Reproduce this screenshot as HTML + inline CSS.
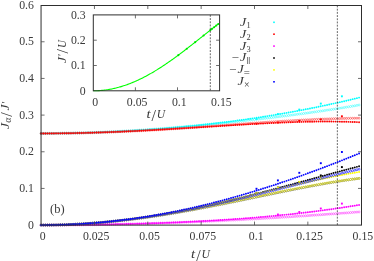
<!DOCTYPE html>
<html><head><meta charset="utf-8"><title>plot</title><style>html,body{margin:0;padding:0;background:#fff}</style></head><body>
<svg width="374" height="261" viewBox="0 0 374 261" style="display:block;font-family:'Liberation Serif',serif">
<rect width="374" height="261" fill="#fff"/>
<g>
<g fill="none" stroke="#00ffff" stroke-width="0.42">
<circle cx="41.10" cy="133.43" r="1.0"/>
<circle cx="43.23" cy="133.43" r="1.0"/>
<circle cx="45.37" cy="133.43" r="1.0"/>
<circle cx="47.50" cy="133.42" r="1.0"/>
<circle cx="49.64" cy="133.41" r="1.0"/>
<circle cx="51.77" cy="133.39" r="1.0"/>
<circle cx="53.90" cy="133.38" r="1.0"/>
<circle cx="56.04" cy="133.35" r="1.0"/>
<circle cx="58.17" cy="133.33" r="1.0"/>
<circle cx="60.31" cy="133.30" r="1.0"/>
<circle cx="62.44" cy="133.27" r="1.0"/>
<circle cx="64.57" cy="133.24" r="1.0"/>
<circle cx="66.71" cy="133.20" r="1.0"/>
<circle cx="68.84" cy="133.16" r="1.0"/>
<circle cx="70.98" cy="133.12" r="1.0"/>
<circle cx="73.11" cy="133.07" r="1.0"/>
<circle cx="75.24" cy="133.02" r="1.0"/>
<circle cx="77.38" cy="132.97" r="1.0"/>
<circle cx="79.51" cy="132.91" r="1.0"/>
<circle cx="81.65" cy="132.85" r="1.0"/>
<circle cx="83.78" cy="132.79" r="1.0"/>
<circle cx="85.91" cy="132.73" r="1.0"/>
<circle cx="88.05" cy="132.66" r="1.0"/>
<circle cx="90.18" cy="132.59" r="1.0"/>
<circle cx="92.32" cy="132.51" r="1.0"/>
<circle cx="94.45" cy="132.44" r="1.0"/>
<circle cx="96.58" cy="132.36" r="1.0"/>
<circle cx="98.72" cy="132.27" r="1.0"/>
<circle cx="100.85" cy="132.19" r="1.0"/>
<circle cx="102.99" cy="132.10" r="1.0"/>
<circle cx="105.12" cy="132.00" r="1.0"/>
<circle cx="107.25" cy="131.91" r="1.0"/>
<circle cx="109.39" cy="131.81" r="1.0"/>
<circle cx="111.52" cy="131.71" r="1.0"/>
<circle cx="113.66" cy="131.61" r="1.0"/>
<circle cx="115.79" cy="131.50" r="1.0"/>
<circle cx="117.92" cy="131.39" r="1.0"/>
<circle cx="120.06" cy="131.28" r="1.0"/>
<circle cx="122.19" cy="131.16" r="1.0"/>
<circle cx="124.33" cy="131.04" r="1.0"/>
<circle cx="126.46" cy="130.92" r="1.0"/>
<circle cx="128.59" cy="130.80" r="1.0"/>
<circle cx="130.73" cy="130.67" r="1.0"/>
<circle cx="132.86" cy="130.55" r="1.0"/>
<circle cx="135.00" cy="130.41" r="1.0"/>
<circle cx="137.13" cy="130.28" r="1.0"/>
<circle cx="139.26" cy="130.14" r="1.0"/>
<circle cx="141.40" cy="130.01" r="1.0"/>
<circle cx="143.53" cy="129.86" r="1.0"/>
<circle cx="145.67" cy="129.72" r="1.0"/>
<circle cx="147.80" cy="129.57" r="1.0"/>
<circle cx="149.93" cy="129.42" r="1.0"/>
<circle cx="152.07" cy="129.27" r="1.0"/>
<circle cx="154.20" cy="129.12" r="1.0"/>
<circle cx="156.34" cy="128.96" r="1.0"/>
<circle cx="158.47" cy="128.80" r="1.0"/>
<circle cx="160.60" cy="128.64" r="1.0"/>
<circle cx="162.74" cy="128.48" r="1.0"/>
<circle cx="164.87" cy="128.31" r="1.0"/>
<circle cx="167.01" cy="128.14" r="1.0"/>
<circle cx="169.14" cy="127.97" r="1.0"/>
<circle cx="171.27" cy="127.80" r="1.0"/>
<circle cx="173.41" cy="127.63" r="1.0"/>
<circle cx="175.54" cy="127.45" r="1.0"/>
<circle cx="177.68" cy="127.27" r="1.0"/>
<circle cx="179.81" cy="127.09" r="1.0"/>
<circle cx="181.94" cy="126.91" r="1.0"/>
<circle cx="184.08" cy="126.72" r="1.0"/>
<circle cx="186.21" cy="126.54" r="1.0"/>
<circle cx="188.35" cy="126.35" r="1.0"/>
<circle cx="190.48" cy="126.15" r="1.0"/>
<circle cx="192.61" cy="125.96" r="1.0"/>
<circle cx="194.75" cy="125.77" r="1.0"/>
<circle cx="196.88" cy="125.57" r="1.0"/>
<circle cx="199.02" cy="125.37" r="1.0"/>
<circle cx="201.15" cy="125.17" r="1.0"/>
<circle cx="203.28" cy="124.97" r="1.0"/>
<circle cx="205.42" cy="124.76" r="1.0"/>
<circle cx="207.55" cy="124.56" r="1.0"/>
<circle cx="209.69" cy="124.35" r="1.0"/>
<circle cx="211.82" cy="124.14" r="1.0"/>
<circle cx="213.95" cy="123.93" r="1.0"/>
<circle cx="216.09" cy="123.71" r="1.0"/>
<circle cx="218.22" cy="123.50" r="1.0"/>
<circle cx="220.36" cy="123.28" r="1.0"/>
<circle cx="222.49" cy="123.06" r="1.0"/>
<circle cx="224.62" cy="122.84" r="1.0"/>
<circle cx="226.76" cy="122.62" r="1.0"/>
<circle cx="228.89" cy="122.40" r="1.0"/>
<circle cx="231.03" cy="122.17" r="1.0"/>
<circle cx="233.16" cy="121.94" r="1.0"/>
<circle cx="235.29" cy="121.72" r="1.0"/>
<circle cx="237.43" cy="121.48" r="1.0"/>
<circle cx="239.56" cy="121.25" r="1.0"/>
<circle cx="241.70" cy="121.02" r="1.0"/>
<circle cx="243.83" cy="120.78" r="1.0"/>
<circle cx="245.96" cy="120.55" r="1.0"/>
<circle cx="248.10" cy="120.31" r="1.0"/>
<circle cx="250.23" cy="120.07" r="1.0"/>
<circle cx="252.37" cy="119.83" r="1.0"/>
<circle cx="254.50" cy="119.58" r="1.0"/>
<circle cx="256.63" cy="119.34" r="1.0"/>
<circle cx="258.77" cy="119.09" r="1.0"/>
<circle cx="260.90" cy="118.84" r="1.0"/>
<circle cx="263.04" cy="118.59" r="1.0"/>
<circle cx="265.17" cy="118.34" r="1.0"/>
<circle cx="267.30" cy="118.09" r="1.0"/>
<circle cx="269.44" cy="117.83" r="1.0"/>
<circle cx="271.57" cy="117.58" r="1.0"/>
<circle cx="273.71" cy="117.32" r="1.0"/>
<circle cx="275.84" cy="117.06" r="1.0"/>
<circle cx="277.97" cy="116.80" r="1.0"/>
<circle cx="280.11" cy="116.53" r="1.0"/>
<circle cx="282.24" cy="116.27" r="1.0"/>
<circle cx="284.38" cy="116.00" r="1.0"/>
<circle cx="286.51" cy="115.73" r="1.0"/>
<circle cx="288.64" cy="115.46" r="1.0"/>
<circle cx="290.78" cy="115.18" r="1.0"/>
<circle cx="292.91" cy="114.91" r="1.0"/>
<circle cx="295.05" cy="114.63" r="1.0"/>
<circle cx="297.18" cy="114.35" r="1.0"/>
<circle cx="299.31" cy="114.07" r="1.0"/>
<circle cx="301.45" cy="113.79" r="1.0"/>
<circle cx="303.58" cy="113.50" r="1.0"/>
<circle cx="305.72" cy="113.21" r="1.0"/>
<circle cx="307.85" cy="112.92" r="1.0"/>
<circle cx="309.98" cy="112.63" r="1.0"/>
<circle cx="312.12" cy="112.33" r="1.0"/>
<circle cx="314.25" cy="112.03" r="1.0"/>
<circle cx="316.39" cy="111.73" r="1.0"/>
<circle cx="318.52" cy="111.43" r="1.0"/>
<circle cx="320.65" cy="111.12" r="1.0"/>
<circle cx="322.79" cy="110.81" r="1.0"/>
<circle cx="324.92" cy="110.50" r="1.0"/>
<circle cx="327.06" cy="110.18" r="1.0"/>
<circle cx="329.19" cy="109.86" r="1.0"/>
<circle cx="331.32" cy="109.54" r="1.0"/>
<circle cx="333.46" cy="109.22" r="1.0"/>
<circle cx="335.59" cy="108.89" r="1.0"/>
<circle cx="337.73" cy="108.55" r="1.0"/>
<circle cx="339.86" cy="108.22" r="1.0"/>
<circle cx="341.99" cy="107.88" r="1.0"/>
<circle cx="344.13" cy="107.54" r="1.0"/>
<circle cx="346.26" cy="107.19" r="1.0"/>
<circle cx="348.40" cy="106.84" r="1.0"/>
<circle cx="350.53" cy="106.48" r="1.0"/>
<circle cx="352.66" cy="106.12" r="1.0"/>
<circle cx="354.80" cy="105.76" r="1.0"/>
<circle cx="356.93" cy="105.39" r="1.0"/>
<circle cx="359.07" cy="105.01" r="1.0"/>
</g>
<g fill="#00ffff">
<circle cx="41.10" cy="133.43" r="0.95"/>
<circle cx="43.23" cy="133.43" r="0.95"/>
<circle cx="45.37" cy="133.43" r="0.95"/>
<circle cx="47.50" cy="133.42" r="0.95"/>
<circle cx="49.64" cy="133.41" r="0.95"/>
<circle cx="51.77" cy="133.40" r="0.95"/>
<circle cx="53.90" cy="133.38" r="0.95"/>
<circle cx="56.04" cy="133.36" r="0.95"/>
<circle cx="58.17" cy="133.34" r="0.95"/>
<circle cx="60.31" cy="133.31" r="0.95"/>
<circle cx="62.44" cy="133.29" r="0.95"/>
<circle cx="64.57" cy="133.26" r="0.95"/>
<circle cx="66.71" cy="133.22" r="0.95"/>
<circle cx="68.84" cy="133.19" r="0.95"/>
<circle cx="70.98" cy="133.15" r="0.95"/>
<circle cx="73.11" cy="133.10" r="0.95"/>
<circle cx="75.24" cy="133.06" r="0.95"/>
<circle cx="77.38" cy="133.01" r="0.95"/>
<circle cx="79.51" cy="132.96" r="0.95"/>
<circle cx="81.65" cy="132.90" r="0.95"/>
<circle cx="83.78" cy="132.85" r="0.95"/>
<circle cx="85.91" cy="132.79" r="0.95"/>
<circle cx="88.05" cy="132.72" r="0.95"/>
<circle cx="90.18" cy="132.66" r="0.95"/>
<circle cx="92.32" cy="132.59" r="0.95"/>
<circle cx="94.45" cy="132.51" r="0.95"/>
<circle cx="96.58" cy="132.44" r="0.95"/>
<circle cx="98.72" cy="132.36" r="0.95"/>
<circle cx="100.85" cy="132.28" r="0.95"/>
<circle cx="102.99" cy="132.20" r="0.95"/>
<circle cx="105.12" cy="132.11" r="0.95"/>
<circle cx="107.25" cy="132.02" r="0.95"/>
<circle cx="109.39" cy="131.92" r="0.95"/>
<circle cx="111.52" cy="131.83" r="0.95"/>
<circle cx="113.66" cy="131.73" r="0.95"/>
<circle cx="115.79" cy="131.63" r="0.95"/>
<circle cx="117.92" cy="131.52" r="0.95"/>
<circle cx="120.06" cy="131.41" r="0.95"/>
<circle cx="122.19" cy="131.30" r="0.95"/>
<circle cx="124.33" cy="131.19" r="0.95"/>
<circle cx="126.46" cy="131.07" r="0.95"/>
<circle cx="128.59" cy="130.95" r="0.95"/>
<circle cx="130.73" cy="130.83" r="0.95"/>
<circle cx="132.86" cy="130.70" r="0.95"/>
<circle cx="135.00" cy="130.57" r="0.95"/>
<circle cx="137.13" cy="130.44" r="0.95"/>
<circle cx="139.26" cy="130.30" r="0.95"/>
<circle cx="141.40" cy="130.16" r="0.95"/>
<circle cx="143.53" cy="130.02" r="0.95"/>
<circle cx="145.67" cy="129.87" r="0.95"/>
<circle cx="147.80" cy="129.73" r="0.95"/>
<circle cx="149.93" cy="129.57" r="0.95"/>
<circle cx="152.07" cy="129.42" r="0.95"/>
<circle cx="154.20" cy="129.26" r="0.95"/>
<circle cx="156.34" cy="129.10" r="0.95"/>
<circle cx="158.47" cy="128.94" r="0.95"/>
<circle cx="160.60" cy="128.77" r="0.95"/>
<circle cx="162.74" cy="128.60" r="0.95"/>
<circle cx="164.87" cy="128.42" r="0.95"/>
<circle cx="167.01" cy="128.25" r="0.95"/>
<circle cx="169.14" cy="128.07" r="0.95"/>
<circle cx="171.27" cy="127.88" r="0.95"/>
<circle cx="173.41" cy="127.70" r="0.95"/>
<circle cx="175.54" cy="127.51" r="0.95"/>
<circle cx="177.68" cy="127.32" r="0.95"/>
<circle cx="179.81" cy="127.12" r="0.95"/>
<circle cx="181.94" cy="126.92" r="0.95"/>
<circle cx="184.08" cy="126.72" r="0.95"/>
<circle cx="186.21" cy="126.51" r="0.95"/>
<circle cx="188.35" cy="126.30" r="0.95"/>
<circle cx="190.48" cy="126.09" r="0.95"/>
<circle cx="192.61" cy="125.87" r="0.95"/>
<circle cx="194.75" cy="125.65" r="0.95"/>
<circle cx="196.88" cy="125.43" r="0.95"/>
<circle cx="199.02" cy="125.20" r="0.95"/>
<circle cx="201.15" cy="124.97" r="0.95"/>
<circle cx="203.28" cy="124.74" r="0.95"/>
<circle cx="205.42" cy="124.51" r="0.95"/>
<circle cx="207.55" cy="124.27" r="0.95"/>
<circle cx="209.69" cy="124.02" r="0.95"/>
<circle cx="211.82" cy="123.78" r="0.95"/>
<circle cx="213.95" cy="123.53" r="0.95"/>
<circle cx="216.09" cy="123.27" r="0.95"/>
<circle cx="218.22" cy="123.02" r="0.95"/>
<circle cx="220.36" cy="122.76" r="0.95"/>
<circle cx="222.49" cy="122.49" r="0.95"/>
<circle cx="224.62" cy="122.22" r="0.95"/>
<circle cx="226.76" cy="121.95" r="0.95"/>
<circle cx="228.89" cy="121.68" r="0.95"/>
<circle cx="231.03" cy="121.40" r="0.95"/>
<circle cx="233.16" cy="121.12" r="0.95"/>
<circle cx="235.29" cy="120.84" r="0.95"/>
<circle cx="237.43" cy="120.55" r="0.95"/>
<circle cx="239.56" cy="120.25" r="0.95"/>
<circle cx="241.70" cy="119.96" r="0.95"/>
<circle cx="243.83" cy="119.66" r="0.95"/>
<circle cx="245.96" cy="119.36" r="0.95"/>
<circle cx="248.10" cy="119.05" r="0.95"/>
<circle cx="250.23" cy="118.74" r="0.95"/>
<circle cx="252.37" cy="118.42" r="0.95"/>
<circle cx="254.50" cy="118.11" r="0.95"/>
<circle cx="256.63" cy="117.79" r="0.95"/>
<circle cx="258.77" cy="117.46" r="0.95"/>
<circle cx="260.90" cy="117.13" r="0.95"/>
<circle cx="263.04" cy="116.80" r="0.95"/>
<circle cx="265.17" cy="116.46" r="0.95"/>
<circle cx="267.30" cy="116.12" r="0.95"/>
<circle cx="269.44" cy="115.78" r="0.95"/>
<circle cx="271.57" cy="115.43" r="0.95"/>
<circle cx="273.71" cy="115.08" r="0.95"/>
<circle cx="275.84" cy="114.72" r="0.95"/>
<circle cx="277.97" cy="114.36" r="0.95"/>
<circle cx="280.11" cy="114.00" r="0.95"/>
<circle cx="282.24" cy="113.63" r="0.95"/>
<circle cx="284.38" cy="113.26" r="0.95"/>
<circle cx="286.51" cy="112.88" r="0.95"/>
<circle cx="288.64" cy="112.50" r="0.95"/>
<circle cx="290.78" cy="112.12" r="0.95"/>
<circle cx="292.91" cy="111.73" r="0.95"/>
<circle cx="295.05" cy="111.34" r="0.95"/>
<circle cx="297.18" cy="110.94" r="0.95"/>
<circle cx="299.31" cy="110.55" r="0.95"/>
<circle cx="301.45" cy="110.14" r="0.95"/>
<circle cx="303.58" cy="109.73" r="0.95"/>
<circle cx="305.72" cy="109.32" r="0.95"/>
<circle cx="307.85" cy="108.91" r="0.95"/>
<circle cx="309.98" cy="108.49" r="0.95"/>
<circle cx="312.12" cy="108.06" r="0.95"/>
<circle cx="314.25" cy="107.63" r="0.95"/>
<circle cx="316.39" cy="107.20" r="0.95"/>
<circle cx="318.52" cy="106.76" r="0.95"/>
<circle cx="320.65" cy="106.32" r="0.95"/>
<circle cx="322.79" cy="105.87" r="0.95"/>
<circle cx="324.92" cy="105.42" r="0.95"/>
<circle cx="327.06" cy="104.97" r="0.95"/>
<circle cx="329.19" cy="104.51" r="0.95"/>
<circle cx="331.32" cy="104.05" r="0.95"/>
<circle cx="333.46" cy="103.58" r="0.95"/>
<circle cx="335.59" cy="103.11" r="0.95"/>
<circle cx="337.73" cy="102.63" r="0.95"/>
<circle cx="339.86" cy="102.15" r="0.95"/>
<circle cx="341.99" cy="101.67" r="0.95"/>
<circle cx="344.13" cy="101.18" r="0.95"/>
<circle cx="346.26" cy="100.68" r="0.95"/>
<circle cx="348.40" cy="100.18" r="0.95"/>
<circle cx="350.53" cy="99.68" r="0.95"/>
<circle cx="352.66" cy="99.17" r="0.95"/>
<circle cx="354.80" cy="98.66" r="0.95"/>
<circle cx="356.93" cy="98.14" r="0.95"/>
<circle cx="359.07" cy="97.62" r="0.95"/>
<rect x="255.55" y="117.95" width="1.9" height="1.9"/>
<rect x="276.95" y="113.15" width="1.9" height="1.9"/>
<rect x="298.35" y="108.65" width="1.9" height="1.9"/>
<rect x="319.85" y="102.65" width="1.9" height="1.9"/>
<rect x="340.95" y="95.35" width="1.9" height="1.9"/>
</g>
<g fill="none" stroke="#ff0000" stroke-width="0.42">
<circle cx="41.10" cy="133.43" r="1.0"/>
<circle cx="43.23" cy="133.43" r="1.0"/>
<circle cx="45.37" cy="133.43" r="1.0"/>
<circle cx="47.50" cy="133.42" r="1.0"/>
<circle cx="49.64" cy="133.41" r="1.0"/>
<circle cx="51.77" cy="133.40" r="1.0"/>
<circle cx="53.90" cy="133.39" r="1.0"/>
<circle cx="56.04" cy="133.37" r="1.0"/>
<circle cx="58.17" cy="133.35" r="1.0"/>
<circle cx="60.31" cy="133.33" r="1.0"/>
<circle cx="62.44" cy="133.30" r="1.0"/>
<circle cx="64.57" cy="133.27" r="1.0"/>
<circle cx="66.71" cy="133.24" r="1.0"/>
<circle cx="68.84" cy="133.21" r="1.0"/>
<circle cx="70.98" cy="133.18" r="1.0"/>
<circle cx="73.11" cy="133.14" r="1.0"/>
<circle cx="75.24" cy="133.10" r="1.0"/>
<circle cx="77.38" cy="133.05" r="1.0"/>
<circle cx="79.51" cy="133.01" r="1.0"/>
<circle cx="81.65" cy="132.96" r="1.0"/>
<circle cx="83.78" cy="132.91" r="1.0"/>
<circle cx="85.91" cy="132.86" r="1.0"/>
<circle cx="88.05" cy="132.80" r="1.0"/>
<circle cx="90.18" cy="132.74" r="1.0"/>
<circle cx="92.32" cy="132.68" r="1.0"/>
<circle cx="94.45" cy="132.62" r="1.0"/>
<circle cx="96.58" cy="132.55" r="1.0"/>
<circle cx="98.72" cy="132.49" r="1.0"/>
<circle cx="100.85" cy="132.42" r="1.0"/>
<circle cx="102.99" cy="132.34" r="1.0"/>
<circle cx="105.12" cy="132.27" r="1.0"/>
<circle cx="107.25" cy="132.19" r="1.0"/>
<circle cx="109.39" cy="132.11" r="1.0"/>
<circle cx="111.52" cy="132.03" r="1.0"/>
<circle cx="113.66" cy="131.95" r="1.0"/>
<circle cx="115.79" cy="131.86" r="1.0"/>
<circle cx="117.92" cy="131.77" r="1.0"/>
<circle cx="120.06" cy="131.68" r="1.0"/>
<circle cx="122.19" cy="131.59" r="1.0"/>
<circle cx="124.33" cy="131.49" r="1.0"/>
<circle cx="126.46" cy="131.39" r="1.0"/>
<circle cx="128.59" cy="131.30" r="1.0"/>
<circle cx="130.73" cy="131.19" r="1.0"/>
<circle cx="132.86" cy="131.09" r="1.0"/>
<circle cx="135.00" cy="130.99" r="1.0"/>
<circle cx="137.13" cy="130.88" r="1.0"/>
<circle cx="139.26" cy="130.77" r="1.0"/>
<circle cx="141.40" cy="130.66" r="1.0"/>
<circle cx="143.53" cy="130.54" r="1.0"/>
<circle cx="145.67" cy="130.43" r="1.0"/>
<circle cx="147.80" cy="130.31" r="1.0"/>
<circle cx="149.93" cy="130.19" r="1.0"/>
<circle cx="152.07" cy="130.07" r="1.0"/>
<circle cx="154.20" cy="129.95" r="1.0"/>
<circle cx="156.34" cy="129.83" r="1.0"/>
<circle cx="158.47" cy="129.70" r="1.0"/>
<circle cx="160.60" cy="129.58" r="1.0"/>
<circle cx="162.74" cy="129.45" r="1.0"/>
<circle cx="164.87" cy="129.32" r="1.0"/>
<circle cx="167.01" cy="129.18" r="1.0"/>
<circle cx="169.14" cy="129.05" r="1.0"/>
<circle cx="171.27" cy="128.92" r="1.0"/>
<circle cx="173.41" cy="128.78" r="1.0"/>
<circle cx="175.54" cy="128.64" r="1.0"/>
<circle cx="177.68" cy="128.51" r="1.0"/>
<circle cx="179.81" cy="128.37" r="1.0"/>
<circle cx="181.94" cy="128.23" r="1.0"/>
<circle cx="184.08" cy="128.08" r="1.0"/>
<circle cx="186.21" cy="127.94" r="1.0"/>
<circle cx="188.35" cy="127.80" r="1.0"/>
<circle cx="190.48" cy="127.65" r="1.0"/>
<circle cx="192.61" cy="127.51" r="1.0"/>
<circle cx="194.75" cy="127.36" r="1.0"/>
<circle cx="196.88" cy="127.21" r="1.0"/>
<circle cx="199.02" cy="127.06" r="1.0"/>
<circle cx="201.15" cy="126.91" r="1.0"/>
<circle cx="203.28" cy="126.76" r="1.0"/>
<circle cx="205.42" cy="126.61" r="1.0"/>
<circle cx="207.55" cy="126.46" r="1.0"/>
<circle cx="209.69" cy="126.31" r="1.0"/>
<circle cx="211.82" cy="126.16" r="1.0"/>
<circle cx="213.95" cy="126.00" r="1.0"/>
<circle cx="216.09" cy="125.85" r="1.0"/>
<circle cx="218.22" cy="125.70" r="1.0"/>
<circle cx="220.36" cy="125.54" r="1.0"/>
<circle cx="222.49" cy="125.39" r="1.0"/>
<circle cx="224.62" cy="125.24" r="1.0"/>
<circle cx="226.76" cy="125.08" r="1.0"/>
<circle cx="228.89" cy="124.93" r="1.0"/>
<circle cx="231.03" cy="124.77" r="1.0"/>
<circle cx="233.16" cy="124.62" r="1.0"/>
<circle cx="235.29" cy="124.46" r="1.0"/>
<circle cx="237.43" cy="124.31" r="1.0"/>
<circle cx="239.56" cy="124.16" r="1.0"/>
<circle cx="241.70" cy="124.00" r="1.0"/>
<circle cx="243.83" cy="123.85" r="1.0"/>
<circle cx="245.96" cy="123.70" r="1.0"/>
<circle cx="248.10" cy="123.55" r="1.0"/>
<circle cx="250.23" cy="123.39" r="1.0"/>
<circle cx="252.37" cy="123.24" r="1.0"/>
<circle cx="254.50" cy="123.09" r="1.0"/>
<circle cx="256.63" cy="122.94" r="1.0"/>
<circle cx="258.77" cy="122.80" r="1.0"/>
<circle cx="260.90" cy="122.65" r="1.0"/>
<circle cx="263.04" cy="122.50" r="1.0"/>
<circle cx="265.17" cy="122.36" r="1.0"/>
<circle cx="267.30" cy="122.21" r="1.0"/>
<circle cx="269.44" cy="122.07" r="1.0"/>
<circle cx="271.57" cy="121.93" r="1.0"/>
<circle cx="273.71" cy="121.79" r="1.0"/>
<circle cx="275.84" cy="121.65" r="1.0"/>
<circle cx="277.97" cy="121.51" r="1.0"/>
<circle cx="280.11" cy="121.38" r="1.0"/>
<circle cx="282.24" cy="121.24" r="1.0"/>
<circle cx="284.38" cy="121.11" r="1.0"/>
<circle cx="286.51" cy="120.98" r="1.0"/>
<circle cx="288.64" cy="120.85" r="1.0"/>
<circle cx="290.78" cy="120.72" r="1.0"/>
<circle cx="292.91" cy="120.60" r="1.0"/>
<circle cx="295.05" cy="120.48" r="1.0"/>
<circle cx="297.18" cy="120.36" r="1.0"/>
<circle cx="299.31" cy="120.24" r="1.0"/>
<circle cx="301.45" cy="120.12" r="1.0"/>
<circle cx="303.58" cy="120.01" r="1.0"/>
<circle cx="305.72" cy="119.90" r="1.0"/>
<circle cx="307.85" cy="119.79" r="1.0"/>
<circle cx="309.98" cy="119.69" r="1.0"/>
<circle cx="312.12" cy="119.58" r="1.0"/>
<circle cx="314.25" cy="119.48" r="1.0"/>
<circle cx="316.39" cy="119.39" r="1.0"/>
<circle cx="318.52" cy="119.29" r="1.0"/>
<circle cx="320.65" cy="119.20" r="1.0"/>
<circle cx="322.79" cy="119.12" r="1.0"/>
<circle cx="324.92" cy="119.03" r="1.0"/>
<circle cx="327.06" cy="118.95" r="1.0"/>
<circle cx="329.19" cy="118.88" r="1.0"/>
<circle cx="331.32" cy="118.80" r="1.0"/>
<circle cx="333.46" cy="118.73" r="1.0"/>
<circle cx="335.59" cy="118.67" r="1.0"/>
<circle cx="337.73" cy="118.61" r="1.0"/>
<circle cx="339.86" cy="118.55" r="1.0"/>
<circle cx="341.99" cy="118.49" r="1.0"/>
<circle cx="344.13" cy="118.45" r="1.0"/>
<circle cx="346.26" cy="118.40" r="1.0"/>
<circle cx="348.40" cy="118.36" r="1.0"/>
<circle cx="350.53" cy="118.32" r="1.0"/>
<circle cx="352.66" cy="118.29" r="1.0"/>
<circle cx="354.80" cy="118.26" r="1.0"/>
<circle cx="356.93" cy="118.24" r="1.0"/>
<circle cx="359.07" cy="118.22" r="1.0"/>
</g>
<g fill="#ff0000">
<circle cx="41.10" cy="133.43" r="0.95"/>
<circle cx="43.23" cy="133.43" r="0.95"/>
<circle cx="45.37" cy="133.43" r="0.95"/>
<circle cx="47.50" cy="133.42" r="0.95"/>
<circle cx="49.64" cy="133.41" r="0.95"/>
<circle cx="51.77" cy="133.40" r="0.95"/>
<circle cx="53.90" cy="133.39" r="0.95"/>
<circle cx="56.04" cy="133.37" r="0.95"/>
<circle cx="58.17" cy="133.35" r="0.95"/>
<circle cx="60.31" cy="133.33" r="0.95"/>
<circle cx="62.44" cy="133.30" r="0.95"/>
<circle cx="64.57" cy="133.27" r="0.95"/>
<circle cx="66.71" cy="133.24" r="0.95"/>
<circle cx="68.84" cy="133.21" r="0.95"/>
<circle cx="70.98" cy="133.18" r="0.95"/>
<circle cx="73.11" cy="133.14" r="0.95"/>
<circle cx="75.24" cy="133.10" r="0.95"/>
<circle cx="77.38" cy="133.05" r="0.95"/>
<circle cx="79.51" cy="133.01" r="0.95"/>
<circle cx="81.65" cy="132.96" r="0.95"/>
<circle cx="83.78" cy="132.91" r="0.95"/>
<circle cx="85.91" cy="132.86" r="0.95"/>
<circle cx="88.05" cy="132.80" r="0.95"/>
<circle cx="90.18" cy="132.75" r="0.95"/>
<circle cx="92.32" cy="132.69" r="0.95"/>
<circle cx="94.45" cy="132.62" r="0.95"/>
<circle cx="96.58" cy="132.56" r="0.95"/>
<circle cx="98.72" cy="132.49" r="0.95"/>
<circle cx="100.85" cy="132.42" r="0.95"/>
<circle cx="102.99" cy="132.35" r="0.95"/>
<circle cx="105.12" cy="132.28" r="0.95"/>
<circle cx="107.25" cy="132.20" r="0.95"/>
<circle cx="109.39" cy="132.12" r="0.95"/>
<circle cx="111.52" cy="132.04" r="0.95"/>
<circle cx="113.66" cy="131.96" r="0.95"/>
<circle cx="115.79" cy="131.87" r="0.95"/>
<circle cx="117.92" cy="131.78" r="0.95"/>
<circle cx="120.06" cy="131.69" r="0.95"/>
<circle cx="122.19" cy="131.60" r="0.95"/>
<circle cx="124.33" cy="131.51" r="0.95"/>
<circle cx="126.46" cy="131.42" r="0.95"/>
<circle cx="128.59" cy="131.32" r="0.95"/>
<circle cx="130.73" cy="131.22" r="0.95"/>
<circle cx="132.86" cy="131.12" r="0.95"/>
<circle cx="135.00" cy="131.02" r="0.95"/>
<circle cx="137.13" cy="130.91" r="0.95"/>
<circle cx="139.26" cy="130.80" r="0.95"/>
<circle cx="141.40" cy="130.70" r="0.95"/>
<circle cx="143.53" cy="130.59" r="0.95"/>
<circle cx="145.67" cy="130.48" r="0.95"/>
<circle cx="147.80" cy="130.36" r="0.95"/>
<circle cx="149.93" cy="130.25" r="0.95"/>
<circle cx="152.07" cy="130.13" r="0.95"/>
<circle cx="154.20" cy="130.01" r="0.95"/>
<circle cx="156.34" cy="129.90" r="0.95"/>
<circle cx="158.47" cy="129.78" r="0.95"/>
<circle cx="160.60" cy="129.65" r="0.95"/>
<circle cx="162.74" cy="129.53" r="0.95"/>
<circle cx="164.87" cy="129.41" r="0.95"/>
<circle cx="167.01" cy="129.28" r="0.95"/>
<circle cx="169.14" cy="129.16" r="0.95"/>
<circle cx="171.27" cy="129.03" r="0.95"/>
<circle cx="173.41" cy="128.90" r="0.95"/>
<circle cx="175.54" cy="128.77" r="0.95"/>
<circle cx="177.68" cy="128.64" r="0.95"/>
<circle cx="179.81" cy="128.51" r="0.95"/>
<circle cx="181.94" cy="128.38" r="0.95"/>
<circle cx="184.08" cy="128.25" r="0.95"/>
<circle cx="186.21" cy="128.11" r="0.95"/>
<circle cx="188.35" cy="127.98" r="0.95"/>
<circle cx="190.48" cy="127.85" r="0.95"/>
<circle cx="192.61" cy="127.71" r="0.95"/>
<circle cx="194.75" cy="127.58" r="0.95"/>
<circle cx="196.88" cy="127.44" r="0.95"/>
<circle cx="199.02" cy="127.30" r="0.95"/>
<circle cx="201.15" cy="127.17" r="0.95"/>
<circle cx="203.28" cy="127.03" r="0.95"/>
<circle cx="205.42" cy="126.90" r="0.95"/>
<circle cx="207.55" cy="126.76" r="0.95"/>
<circle cx="209.69" cy="126.62" r="0.95"/>
<circle cx="211.82" cy="126.49" r="0.95"/>
<circle cx="213.95" cy="126.35" r="0.95"/>
<circle cx="216.09" cy="126.22" r="0.95"/>
<circle cx="218.22" cy="126.08" r="0.95"/>
<circle cx="220.36" cy="125.94" r="0.95"/>
<circle cx="222.49" cy="125.81" r="0.95"/>
<circle cx="224.62" cy="125.68" r="0.95"/>
<circle cx="226.76" cy="125.54" r="0.95"/>
<circle cx="228.89" cy="125.41" r="0.95"/>
<circle cx="231.03" cy="125.28" r="0.95"/>
<circle cx="233.16" cy="125.15" r="0.95"/>
<circle cx="235.29" cy="125.02" r="0.95"/>
<circle cx="237.43" cy="124.89" r="0.95"/>
<circle cx="239.56" cy="124.76" r="0.95"/>
<circle cx="241.70" cy="124.63" r="0.95"/>
<circle cx="243.83" cy="124.51" r="0.95"/>
<circle cx="245.96" cy="124.38" r="0.95"/>
<circle cx="248.10" cy="124.26" r="0.95"/>
<circle cx="250.23" cy="124.14" r="0.95"/>
<circle cx="252.37" cy="124.02" r="0.95"/>
<circle cx="254.50" cy="123.90" r="0.95"/>
<circle cx="256.63" cy="123.78" r="0.95"/>
<circle cx="258.77" cy="123.67" r="0.95"/>
<circle cx="260.90" cy="123.56" r="0.95"/>
<circle cx="263.04" cy="123.45" r="0.95"/>
<circle cx="265.17" cy="123.34" r="0.95"/>
<circle cx="267.30" cy="123.23" r="0.95"/>
<circle cx="269.44" cy="123.13" r="0.95"/>
<circle cx="271.57" cy="123.03" r="0.95"/>
<circle cx="273.71" cy="122.93" r="0.95"/>
<circle cx="275.84" cy="122.83" r="0.95"/>
<circle cx="277.97" cy="122.74" r="0.95"/>
<circle cx="280.11" cy="122.64" r="0.95"/>
<circle cx="282.24" cy="122.56" r="0.95"/>
<circle cx="284.38" cy="122.47" r="0.95"/>
<circle cx="286.51" cy="122.39" r="0.95"/>
<circle cx="288.64" cy="122.31" r="0.95"/>
<circle cx="290.78" cy="122.23" r="0.95"/>
<circle cx="292.91" cy="122.16" r="0.95"/>
<circle cx="295.05" cy="122.09" r="0.95"/>
<circle cx="297.18" cy="122.03" r="0.95"/>
<circle cx="299.31" cy="121.97" r="0.95"/>
<circle cx="301.45" cy="121.91" r="0.95"/>
<circle cx="303.58" cy="121.86" r="0.95"/>
<circle cx="305.72" cy="121.81" r="0.95"/>
<circle cx="307.85" cy="121.76" r="0.95"/>
<circle cx="309.98" cy="121.72" r="0.95"/>
<circle cx="312.12" cy="121.68" r="0.95"/>
<circle cx="314.25" cy="121.65" r="0.95"/>
<circle cx="316.39" cy="121.62" r="0.95"/>
<circle cx="318.52" cy="121.60" r="0.95"/>
<circle cx="320.65" cy="121.58" r="0.95"/>
<circle cx="322.79" cy="121.57" r="0.95"/>
<circle cx="324.92" cy="121.56" r="0.95"/>
<circle cx="327.06" cy="121.55" r="0.95"/>
<circle cx="329.19" cy="121.56" r="0.95"/>
<circle cx="331.32" cy="121.56" r="0.95"/>
<circle cx="333.46" cy="121.58" r="0.95"/>
<circle cx="335.59" cy="121.59" r="0.95"/>
<circle cx="337.73" cy="121.62" r="0.95"/>
<circle cx="339.86" cy="121.65" r="0.95"/>
<circle cx="341.99" cy="121.68" r="0.95"/>
<circle cx="344.13" cy="121.73" r="0.95"/>
<circle cx="346.26" cy="121.77" r="0.95"/>
<circle cx="348.40" cy="121.83" r="0.95"/>
<circle cx="350.53" cy="121.89" r="0.95"/>
<circle cx="352.66" cy="121.96" r="0.95"/>
<circle cx="354.80" cy="122.03" r="0.95"/>
<circle cx="356.93" cy="122.11" r="0.95"/>
<circle cx="359.07" cy="122.20" r="0.95"/>
<rect x="255.55" y="122.85" width="1.9" height="1.9"/>
<rect x="276.95" y="121.55" width="1.9" height="1.9"/>
<rect x="298.35" y="119.95" width="1.9" height="1.9"/>
<rect x="319.85" y="118.45" width="1.9" height="1.9"/>
<rect x="340.95" y="115.35" width="1.9" height="1.9"/>
</g>
<g fill="none" stroke="#ff00ff" stroke-width="0.42">
<circle cx="41.10" cy="225.10" r="1.0"/>
<circle cx="43.23" cy="225.10" r="1.0"/>
<circle cx="45.37" cy="225.10" r="1.0"/>
<circle cx="47.50" cy="225.09" r="1.0"/>
<circle cx="49.64" cy="225.09" r="1.0"/>
<circle cx="51.77" cy="225.08" r="1.0"/>
<circle cx="53.90" cy="225.08" r="1.0"/>
<circle cx="56.04" cy="225.07" r="1.0"/>
<circle cx="58.17" cy="225.06" r="1.0"/>
<circle cx="60.31" cy="225.05" r="1.0"/>
<circle cx="62.44" cy="225.04" r="1.0"/>
<circle cx="64.57" cy="225.02" r="1.0"/>
<circle cx="66.71" cy="225.01" r="1.0"/>
<circle cx="68.84" cy="224.99" r="1.0"/>
<circle cx="70.98" cy="224.97" r="1.0"/>
<circle cx="73.11" cy="224.96" r="1.0"/>
<circle cx="75.24" cy="224.94" r="1.0"/>
<circle cx="77.38" cy="224.91" r="1.0"/>
<circle cx="79.51" cy="224.89" r="1.0"/>
<circle cx="81.65" cy="224.87" r="1.0"/>
<circle cx="83.78" cy="224.84" r="1.0"/>
<circle cx="85.91" cy="224.82" r="1.0"/>
<circle cx="88.05" cy="224.79" r="1.0"/>
<circle cx="90.18" cy="224.76" r="1.0"/>
<circle cx="92.32" cy="224.73" r="1.0"/>
<circle cx="94.45" cy="224.70" r="1.0"/>
<circle cx="96.58" cy="224.67" r="1.0"/>
<circle cx="98.72" cy="224.63" r="1.0"/>
<circle cx="100.85" cy="224.60" r="1.0"/>
<circle cx="102.99" cy="224.56" r="1.0"/>
<circle cx="105.12" cy="224.52" r="1.0"/>
<circle cx="107.25" cy="224.49" r="1.0"/>
<circle cx="109.39" cy="224.45" r="1.0"/>
<circle cx="111.52" cy="224.40" r="1.0"/>
<circle cx="113.66" cy="224.36" r="1.0"/>
<circle cx="115.79" cy="224.32" r="1.0"/>
<circle cx="117.92" cy="224.27" r="1.0"/>
<circle cx="120.06" cy="224.23" r="1.0"/>
<circle cx="122.19" cy="224.18" r="1.0"/>
<circle cx="124.33" cy="224.13" r="1.0"/>
<circle cx="126.46" cy="224.08" r="1.0"/>
<circle cx="128.59" cy="224.03" r="1.0"/>
<circle cx="130.73" cy="223.97" r="1.0"/>
<circle cx="132.86" cy="223.92" r="1.0"/>
<circle cx="135.00" cy="223.87" r="1.0"/>
<circle cx="137.13" cy="223.81" r="1.0"/>
<circle cx="139.26" cy="223.75" r="1.0"/>
<circle cx="141.40" cy="223.69" r="1.0"/>
<circle cx="143.53" cy="223.63" r="1.0"/>
<circle cx="145.67" cy="223.57" r="1.0"/>
<circle cx="147.80" cy="223.51" r="1.0"/>
<circle cx="149.93" cy="223.45" r="1.0"/>
<circle cx="152.07" cy="223.38" r="1.0"/>
<circle cx="154.20" cy="223.31" r="1.0"/>
<circle cx="156.34" cy="223.25" r="1.0"/>
<circle cx="158.47" cy="223.18" r="1.0"/>
<circle cx="160.60" cy="223.11" r="1.0"/>
<circle cx="162.74" cy="223.04" r="1.0"/>
<circle cx="164.87" cy="222.97" r="1.0"/>
<circle cx="167.01" cy="222.89" r="1.0"/>
<circle cx="169.14" cy="222.82" r="1.0"/>
<circle cx="171.27" cy="222.74" r="1.0"/>
<circle cx="173.41" cy="222.67" r="1.0"/>
<circle cx="175.54" cy="222.59" r="1.0"/>
<circle cx="177.68" cy="222.51" r="1.0"/>
<circle cx="179.81" cy="222.43" r="1.0"/>
<circle cx="181.94" cy="222.35" r="1.0"/>
<circle cx="184.08" cy="222.26" r="1.0"/>
<circle cx="186.21" cy="222.18" r="1.0"/>
<circle cx="188.35" cy="222.09" r="1.0"/>
<circle cx="190.48" cy="222.01" r="1.0"/>
<circle cx="192.61" cy="221.92" r="1.0"/>
<circle cx="194.75" cy="221.83" r="1.0"/>
<circle cx="196.88" cy="221.74" r="1.0"/>
<circle cx="199.02" cy="221.65" r="1.0"/>
<circle cx="201.15" cy="221.56" r="1.0"/>
<circle cx="203.28" cy="221.47" r="1.0"/>
<circle cx="205.42" cy="221.37" r="1.0"/>
<circle cx="207.55" cy="221.28" r="1.0"/>
<circle cx="209.69" cy="221.18" r="1.0"/>
<circle cx="211.82" cy="221.08" r="1.0"/>
<circle cx="213.95" cy="220.98" r="1.0"/>
<circle cx="216.09" cy="220.88" r="1.0"/>
<circle cx="218.22" cy="220.78" r="1.0"/>
<circle cx="220.36" cy="220.68" r="1.0"/>
<circle cx="222.49" cy="220.58" r="1.0"/>
<circle cx="224.62" cy="220.47" r="1.0"/>
<circle cx="226.76" cy="220.37" r="1.0"/>
<circle cx="228.89" cy="220.26" r="1.0"/>
<circle cx="231.03" cy="220.16" r="1.0"/>
<circle cx="233.16" cy="220.05" r="1.0"/>
<circle cx="235.29" cy="219.94" r="1.0"/>
<circle cx="237.43" cy="219.83" r="1.0"/>
<circle cx="239.56" cy="219.71" r="1.0"/>
<circle cx="241.70" cy="219.60" r="1.0"/>
<circle cx="243.83" cy="219.49" r="1.0"/>
<circle cx="245.96" cy="219.37" r="1.0"/>
<circle cx="248.10" cy="219.26" r="1.0"/>
<circle cx="250.23" cy="219.14" r="1.0"/>
<circle cx="252.37" cy="219.02" r="1.0"/>
<circle cx="254.50" cy="218.90" r="1.0"/>
<circle cx="256.63" cy="218.78" r="1.0"/>
<circle cx="258.77" cy="218.66" r="1.0"/>
<circle cx="260.90" cy="218.54" r="1.0"/>
<circle cx="263.04" cy="218.42" r="1.0"/>
<circle cx="265.17" cy="218.29" r="1.0"/>
<circle cx="267.30" cy="218.17" r="1.0"/>
<circle cx="269.44" cy="218.04" r="1.0"/>
<circle cx="271.57" cy="217.91" r="1.0"/>
<circle cx="273.71" cy="217.79" r="1.0"/>
<circle cx="275.84" cy="217.66" r="1.0"/>
<circle cx="277.97" cy="217.53" r="1.0"/>
<circle cx="280.11" cy="217.40" r="1.0"/>
<circle cx="282.24" cy="217.27" r="1.0"/>
<circle cx="284.38" cy="217.13" r="1.0"/>
<circle cx="286.51" cy="217.00" r="1.0"/>
<circle cx="288.64" cy="216.86" r="1.0"/>
<circle cx="290.78" cy="216.73" r="1.0"/>
<circle cx="292.91" cy="216.59" r="1.0"/>
<circle cx="295.05" cy="216.45" r="1.0"/>
<circle cx="297.18" cy="216.32" r="1.0"/>
<circle cx="299.31" cy="216.18" r="1.0"/>
<circle cx="301.45" cy="216.04" r="1.0"/>
<circle cx="303.58" cy="215.90" r="1.0"/>
<circle cx="305.72" cy="215.75" r="1.0"/>
<circle cx="307.85" cy="215.61" r="1.0"/>
<circle cx="309.98" cy="215.47" r="1.0"/>
<circle cx="312.12" cy="215.32" r="1.0"/>
<circle cx="314.25" cy="215.18" r="1.0"/>
<circle cx="316.39" cy="215.03" r="1.0"/>
<circle cx="318.52" cy="214.88" r="1.0"/>
<circle cx="320.65" cy="214.74" r="1.0"/>
<circle cx="322.79" cy="214.59" r="1.0"/>
<circle cx="324.92" cy="214.44" r="1.0"/>
<circle cx="327.06" cy="214.29" r="1.0"/>
<circle cx="329.19" cy="214.14" r="1.0"/>
<circle cx="331.32" cy="213.98" r="1.0"/>
<circle cx="333.46" cy="213.83" r="1.0"/>
<circle cx="335.59" cy="213.68" r="1.0"/>
<circle cx="337.73" cy="213.52" r="1.0"/>
<circle cx="339.86" cy="213.37" r="1.0"/>
<circle cx="341.99" cy="213.21" r="1.0"/>
<circle cx="344.13" cy="213.06" r="1.0"/>
<circle cx="346.26" cy="212.90" r="1.0"/>
<circle cx="348.40" cy="212.74" r="1.0"/>
<circle cx="350.53" cy="212.58" r="1.0"/>
<circle cx="352.66" cy="212.42" r="1.0"/>
<circle cx="354.80" cy="212.26" r="1.0"/>
<circle cx="356.93" cy="212.10" r="1.0"/>
<circle cx="359.07" cy="211.94" r="1.0"/>
</g>
<g fill="#ff00ff">
<circle cx="41.10" cy="225.10" r="0.95"/>
<circle cx="43.23" cy="225.10" r="0.95"/>
<circle cx="45.37" cy="225.10" r="0.95"/>
<circle cx="47.50" cy="225.09" r="0.95"/>
<circle cx="49.64" cy="225.09" r="0.95"/>
<circle cx="51.77" cy="225.08" r="0.95"/>
<circle cx="53.90" cy="225.08" r="0.95"/>
<circle cx="56.04" cy="225.07" r="0.95"/>
<circle cx="58.17" cy="225.06" r="0.95"/>
<circle cx="60.31" cy="225.05" r="0.95"/>
<circle cx="62.44" cy="225.04" r="0.95"/>
<circle cx="64.57" cy="225.02" r="0.95"/>
<circle cx="66.71" cy="225.01" r="0.95"/>
<circle cx="68.84" cy="224.99" r="0.95"/>
<circle cx="70.98" cy="224.98" r="0.95"/>
<circle cx="73.11" cy="224.96" r="0.95"/>
<circle cx="75.24" cy="224.94" r="0.95"/>
<circle cx="77.38" cy="224.92" r="0.95"/>
<circle cx="79.51" cy="224.90" r="0.95"/>
<circle cx="81.65" cy="224.87" r="0.95"/>
<circle cx="83.78" cy="224.85" r="0.95"/>
<circle cx="85.91" cy="224.82" r="0.95"/>
<circle cx="88.05" cy="224.80" r="0.95"/>
<circle cx="90.18" cy="224.77" r="0.95"/>
<circle cx="92.32" cy="224.74" r="0.95"/>
<circle cx="94.45" cy="224.71" r="0.95"/>
<circle cx="96.58" cy="224.67" r="0.95"/>
<circle cx="98.72" cy="224.64" r="0.95"/>
<circle cx="100.85" cy="224.60" r="0.95"/>
<circle cx="102.99" cy="224.57" r="0.95"/>
<circle cx="105.12" cy="224.53" r="0.95"/>
<circle cx="107.25" cy="224.49" r="0.95"/>
<circle cx="109.39" cy="224.45" r="0.95"/>
<circle cx="111.52" cy="224.41" r="0.95"/>
<circle cx="113.66" cy="224.36" r="0.95"/>
<circle cx="115.79" cy="224.32" r="0.95"/>
<circle cx="117.92" cy="224.27" r="0.95"/>
<circle cx="120.06" cy="224.22" r="0.95"/>
<circle cx="122.19" cy="224.17" r="0.95"/>
<circle cx="124.33" cy="224.12" r="0.95"/>
<circle cx="126.46" cy="224.07" r="0.95"/>
<circle cx="128.59" cy="224.02" r="0.95"/>
<circle cx="130.73" cy="223.96" r="0.95"/>
<circle cx="132.86" cy="223.90" r="0.95"/>
<circle cx="135.00" cy="223.85" r="0.95"/>
<circle cx="137.13" cy="223.79" r="0.95"/>
<circle cx="139.26" cy="223.72" r="0.95"/>
<circle cx="141.40" cy="223.66" r="0.95"/>
<circle cx="143.53" cy="223.60" r="0.95"/>
<circle cx="145.67" cy="223.53" r="0.95"/>
<circle cx="147.80" cy="223.46" r="0.95"/>
<circle cx="149.93" cy="223.39" r="0.95"/>
<circle cx="152.07" cy="223.32" r="0.95"/>
<circle cx="154.20" cy="223.25" r="0.95"/>
<circle cx="156.34" cy="223.17" r="0.95"/>
<circle cx="158.47" cy="223.10" r="0.95"/>
<circle cx="160.60" cy="223.02" r="0.95"/>
<circle cx="162.74" cy="222.94" r="0.95"/>
<circle cx="164.87" cy="222.86" r="0.95"/>
<circle cx="167.01" cy="222.77" r="0.95"/>
<circle cx="169.14" cy="222.69" r="0.95"/>
<circle cx="171.27" cy="222.60" r="0.95"/>
<circle cx="173.41" cy="222.51" r="0.95"/>
<circle cx="175.54" cy="222.42" r="0.95"/>
<circle cx="177.68" cy="222.33" r="0.95"/>
<circle cx="179.81" cy="222.24" r="0.95"/>
<circle cx="181.94" cy="222.14" r="0.95"/>
<circle cx="184.08" cy="222.04" r="0.95"/>
<circle cx="186.21" cy="221.94" r="0.95"/>
<circle cx="188.35" cy="221.84" r="0.95"/>
<circle cx="190.48" cy="221.74" r="0.95"/>
<circle cx="192.61" cy="221.63" r="0.95"/>
<circle cx="194.75" cy="221.52" r="0.95"/>
<circle cx="196.88" cy="221.41" r="0.95"/>
<circle cx="199.02" cy="221.30" r="0.95"/>
<circle cx="201.15" cy="221.19" r="0.95"/>
<circle cx="203.28" cy="221.07" r="0.95"/>
<circle cx="205.42" cy="220.95" r="0.95"/>
<circle cx="207.55" cy="220.83" r="0.95"/>
<circle cx="209.69" cy="220.71" r="0.95"/>
<circle cx="211.82" cy="220.59" r="0.95"/>
<circle cx="213.95" cy="220.46" r="0.95"/>
<circle cx="216.09" cy="220.33" r="0.95"/>
<circle cx="218.22" cy="220.20" r="0.95"/>
<circle cx="220.36" cy="220.06" r="0.95"/>
<circle cx="222.49" cy="219.93" r="0.95"/>
<circle cx="224.62" cy="219.79" r="0.95"/>
<circle cx="226.76" cy="219.65" r="0.95"/>
<circle cx="228.89" cy="219.50" r="0.95"/>
<circle cx="231.03" cy="219.36" r="0.95"/>
<circle cx="233.16" cy="219.21" r="0.95"/>
<circle cx="235.29" cy="219.06" r="0.95"/>
<circle cx="237.43" cy="218.90" r="0.95"/>
<circle cx="239.56" cy="218.75" r="0.95"/>
<circle cx="241.70" cy="218.59" r="0.95"/>
<circle cx="243.83" cy="218.43" r="0.95"/>
<circle cx="245.96" cy="218.27" r="0.95"/>
<circle cx="248.10" cy="218.10" r="0.95"/>
<circle cx="250.23" cy="217.93" r="0.95"/>
<circle cx="252.37" cy="217.76" r="0.95"/>
<circle cx="254.50" cy="217.58" r="0.95"/>
<circle cx="256.63" cy="217.41" r="0.95"/>
<circle cx="258.77" cy="217.23" r="0.95"/>
<circle cx="260.90" cy="217.04" r="0.95"/>
<circle cx="263.04" cy="216.86" r="0.95"/>
<circle cx="265.17" cy="216.67" r="0.95"/>
<circle cx="267.30" cy="216.48" r="0.95"/>
<circle cx="269.44" cy="216.28" r="0.95"/>
<circle cx="271.57" cy="216.08" r="0.95"/>
<circle cx="273.71" cy="215.88" r="0.95"/>
<circle cx="275.84" cy="215.68" r="0.95"/>
<circle cx="277.97" cy="215.47" r="0.95"/>
<circle cx="280.11" cy="215.26" r="0.95"/>
<circle cx="282.24" cy="215.05" r="0.95"/>
<circle cx="284.38" cy="214.83" r="0.95"/>
<circle cx="286.51" cy="214.61" r="0.95"/>
<circle cx="288.64" cy="214.39" r="0.95"/>
<circle cx="290.78" cy="214.16" r="0.95"/>
<circle cx="292.91" cy="213.93" r="0.95"/>
<circle cx="295.05" cy="213.70" r="0.95"/>
<circle cx="297.18" cy="213.46" r="0.95"/>
<circle cx="299.31" cy="213.22" r="0.95"/>
<circle cx="301.45" cy="212.98" r="0.95"/>
<circle cx="303.58" cy="212.73" r="0.95"/>
<circle cx="305.72" cy="212.48" r="0.95"/>
<circle cx="307.85" cy="212.23" r="0.95"/>
<circle cx="309.98" cy="211.97" r="0.95"/>
<circle cx="312.12" cy="211.71" r="0.95"/>
<circle cx="314.25" cy="211.44" r="0.95"/>
<circle cx="316.39" cy="211.17" r="0.95"/>
<circle cx="318.52" cy="210.90" r="0.95"/>
<circle cx="320.65" cy="210.62" r="0.95"/>
<circle cx="322.79" cy="210.34" r="0.95"/>
<circle cx="324.92" cy="210.06" r="0.95"/>
<circle cx="327.06" cy="209.77" r="0.95"/>
<circle cx="329.19" cy="209.48" r="0.95"/>
<circle cx="331.32" cy="209.18" r="0.95"/>
<circle cx="333.46" cy="208.88" r="0.95"/>
<circle cx="335.59" cy="208.57" r="0.95"/>
<circle cx="337.73" cy="208.27" r="0.95"/>
<circle cx="339.86" cy="207.95" r="0.95"/>
<circle cx="341.99" cy="207.64" r="0.95"/>
<circle cx="344.13" cy="207.31" r="0.95"/>
<circle cx="346.26" cy="206.99" r="0.95"/>
<circle cx="348.40" cy="206.66" r="0.95"/>
<circle cx="350.53" cy="206.32" r="0.95"/>
<circle cx="352.66" cy="205.98" r="0.95"/>
<circle cx="354.80" cy="205.64" r="0.95"/>
<circle cx="356.93" cy="205.29" r="0.95"/>
<circle cx="359.07" cy="204.94" r="0.95"/>
<rect x="276.95" y="213.55" width="1.9" height="1.9"/>
<rect x="298.35" y="211.05" width="1.9" height="1.9"/>
<rect x="319.85" y="207.55" width="1.9" height="1.9"/>
<rect x="340.95" y="202.65" width="1.9" height="1.9"/>
</g>
<g fill="none" stroke="#000000" stroke-width="0.42">
<circle cx="41.10" cy="225.10" r="1.0"/>
<circle cx="43.23" cy="225.10" r="1.0"/>
<circle cx="45.37" cy="225.09" r="1.0"/>
<circle cx="47.50" cy="225.07" r="1.0"/>
<circle cx="49.64" cy="225.05" r="1.0"/>
<circle cx="51.77" cy="225.02" r="1.0"/>
<circle cx="53.90" cy="224.98" r="1.0"/>
<circle cx="56.04" cy="224.94" r="1.0"/>
<circle cx="58.17" cy="224.89" r="1.0"/>
<circle cx="60.31" cy="224.83" r="1.0"/>
<circle cx="62.44" cy="224.77" r="1.0"/>
<circle cx="64.57" cy="224.70" r="1.0"/>
<circle cx="66.71" cy="224.63" r="1.0"/>
<circle cx="68.84" cy="224.54" r="1.0"/>
<circle cx="70.98" cy="224.46" r="1.0"/>
<circle cx="73.11" cy="224.36" r="1.0"/>
<circle cx="75.24" cy="224.26" r="1.0"/>
<circle cx="77.38" cy="224.15" r="1.0"/>
<circle cx="79.51" cy="224.04" r="1.0"/>
<circle cx="81.65" cy="223.92" r="1.0"/>
<circle cx="83.78" cy="223.79" r="1.0"/>
<circle cx="85.91" cy="223.66" r="1.0"/>
<circle cx="88.05" cy="223.52" r="1.0"/>
<circle cx="90.18" cy="223.37" r="1.0"/>
<circle cx="92.32" cy="223.22" r="1.0"/>
<circle cx="94.45" cy="223.06" r="1.0"/>
<circle cx="96.58" cy="222.89" r="1.0"/>
<circle cx="98.72" cy="222.72" r="1.0"/>
<circle cx="100.85" cy="222.55" r="1.0"/>
<circle cx="102.99" cy="222.36" r="1.0"/>
<circle cx="105.12" cy="222.17" r="1.0"/>
<circle cx="107.25" cy="221.98" r="1.0"/>
<circle cx="109.39" cy="221.78" r="1.0"/>
<circle cx="111.52" cy="221.57" r="1.0"/>
<circle cx="113.66" cy="221.36" r="1.0"/>
<circle cx="115.79" cy="221.14" r="1.0"/>
<circle cx="117.92" cy="220.91" r="1.0"/>
<circle cx="120.06" cy="220.68" r="1.0"/>
<circle cx="122.19" cy="220.45" r="1.0"/>
<circle cx="124.33" cy="220.21" r="1.0"/>
<circle cx="126.46" cy="219.96" r="1.0"/>
<circle cx="128.59" cy="219.71" r="1.0"/>
<circle cx="130.73" cy="219.45" r="1.0"/>
<circle cx="132.86" cy="219.18" r="1.0"/>
<circle cx="135.00" cy="218.91" r="1.0"/>
<circle cx="137.13" cy="218.64" r="1.0"/>
<circle cx="139.26" cy="218.36" r="1.0"/>
<circle cx="141.40" cy="218.07" r="1.0"/>
<circle cx="143.53" cy="217.78" r="1.0"/>
<circle cx="145.67" cy="217.49" r="1.0"/>
<circle cx="147.80" cy="217.19" r="1.0"/>
<circle cx="149.93" cy="216.88" r="1.0"/>
<circle cx="152.07" cy="216.57" r="1.0"/>
<circle cx="154.20" cy="216.26" r="1.0"/>
<circle cx="156.34" cy="215.94" r="1.0"/>
<circle cx="158.47" cy="215.61" r="1.0"/>
<circle cx="160.60" cy="215.28" r="1.0"/>
<circle cx="162.74" cy="214.95" r="1.0"/>
<circle cx="164.87" cy="214.61" r="1.0"/>
<circle cx="167.01" cy="214.27" r="1.0"/>
<circle cx="169.14" cy="213.92" r="1.0"/>
<circle cx="171.27" cy="213.57" r="1.0"/>
<circle cx="173.41" cy="213.21" r="1.0"/>
<circle cx="175.54" cy="212.85" r="1.0"/>
<circle cx="177.68" cy="212.49" r="1.0"/>
<circle cx="179.81" cy="212.12" r="1.0"/>
<circle cx="181.94" cy="211.75" r="1.0"/>
<circle cx="184.08" cy="211.37" r="1.0"/>
<circle cx="186.21" cy="210.99" r="1.0"/>
<circle cx="188.35" cy="210.61" r="1.0"/>
<circle cx="190.48" cy="210.22" r="1.0"/>
<circle cx="192.61" cy="209.83" r="1.0"/>
<circle cx="194.75" cy="209.44" r="1.0"/>
<circle cx="196.88" cy="209.04" r="1.0"/>
<circle cx="199.02" cy="208.65" r="1.0"/>
<circle cx="201.15" cy="208.24" r="1.0"/>
<circle cx="203.28" cy="207.84" r="1.0"/>
<circle cx="205.42" cy="207.43" r="1.0"/>
<circle cx="207.55" cy="207.02" r="1.0"/>
<circle cx="209.69" cy="206.60" r="1.0"/>
<circle cx="211.82" cy="206.19" r="1.0"/>
<circle cx="213.95" cy="205.77" r="1.0"/>
<circle cx="216.09" cy="205.35" r="1.0"/>
<circle cx="218.22" cy="204.92" r="1.0"/>
<circle cx="220.36" cy="204.50" r="1.0"/>
<circle cx="222.49" cy="204.07" r="1.0"/>
<circle cx="224.62" cy="203.64" r="1.0"/>
<circle cx="226.76" cy="203.21" r="1.0"/>
<circle cx="228.89" cy="202.78" r="1.0"/>
<circle cx="231.03" cy="202.34" r="1.0"/>
<circle cx="233.16" cy="201.91" r="1.0"/>
<circle cx="235.29" cy="201.47" r="1.0"/>
<circle cx="237.43" cy="201.03" r="1.0"/>
<circle cx="239.56" cy="200.59" r="1.0"/>
<circle cx="241.70" cy="200.15" r="1.0"/>
<circle cx="243.83" cy="199.71" r="1.0"/>
<circle cx="245.96" cy="199.27" r="1.0"/>
<circle cx="248.10" cy="198.82" r="1.0"/>
<circle cx="250.23" cy="198.38" r="1.0"/>
<circle cx="252.37" cy="197.93" r="1.0"/>
<circle cx="254.50" cy="197.49" r="1.0"/>
<circle cx="256.63" cy="197.05" r="1.0"/>
<circle cx="258.77" cy="196.60" r="1.0"/>
<circle cx="260.90" cy="196.16" r="1.0"/>
<circle cx="263.04" cy="195.71" r="1.0"/>
<circle cx="265.17" cy="195.27" r="1.0"/>
<circle cx="267.30" cy="194.83" r="1.0"/>
<circle cx="269.44" cy="194.38" r="1.0"/>
<circle cx="271.57" cy="193.94" r="1.0"/>
<circle cx="273.71" cy="193.50" r="1.0"/>
<circle cx="275.84" cy="193.06" r="1.0"/>
<circle cx="277.97" cy="192.62" r="1.0"/>
<circle cx="280.11" cy="192.19" r="1.0"/>
<circle cx="282.24" cy="191.75" r="1.0"/>
<circle cx="284.38" cy="191.32" r="1.0"/>
<circle cx="286.51" cy="190.88" r="1.0"/>
<circle cx="288.64" cy="190.45" r="1.0"/>
<circle cx="290.78" cy="190.03" r="1.0"/>
<circle cx="292.91" cy="189.60" r="1.0"/>
<circle cx="295.05" cy="189.18" r="1.0"/>
<circle cx="297.18" cy="188.76" r="1.0"/>
<circle cx="299.31" cy="188.34" r="1.0"/>
<circle cx="301.45" cy="187.92" r="1.0"/>
<circle cx="303.58" cy="187.51" r="1.0"/>
<circle cx="305.72" cy="187.10" r="1.0"/>
<circle cx="307.85" cy="186.70" r="1.0"/>
<circle cx="309.98" cy="186.29" r="1.0"/>
<circle cx="312.12" cy="185.90" r="1.0"/>
<circle cx="314.25" cy="185.50" r="1.0"/>
<circle cx="316.39" cy="185.11" r="1.0"/>
<circle cx="318.52" cy="184.72" r="1.0"/>
<circle cx="320.65" cy="184.34" r="1.0"/>
<circle cx="322.79" cy="183.96" r="1.0"/>
<circle cx="324.92" cy="183.59" r="1.0"/>
<circle cx="327.06" cy="183.22" r="1.0"/>
<circle cx="329.19" cy="182.86" r="1.0"/>
<circle cx="331.32" cy="182.50" r="1.0"/>
<circle cx="333.46" cy="182.15" r="1.0"/>
<circle cx="335.59" cy="181.80" r="1.0"/>
<circle cx="337.73" cy="181.46" r="1.0"/>
<circle cx="339.86" cy="181.13" r="1.0"/>
<circle cx="341.99" cy="180.80" r="1.0"/>
<circle cx="344.13" cy="180.47" r="1.0"/>
<circle cx="346.26" cy="180.16" r="1.0"/>
<circle cx="348.40" cy="179.85" r="1.0"/>
<circle cx="350.53" cy="179.54" r="1.0"/>
<circle cx="352.66" cy="179.25" r="1.0"/>
<circle cx="354.80" cy="178.96" r="1.0"/>
<circle cx="356.93" cy="178.68" r="1.0"/>
<circle cx="359.07" cy="178.40" r="1.0"/>
</g>
<g fill="#000000">
<circle cx="41.10" cy="225.10" r="0.95"/>
<circle cx="43.23" cy="225.10" r="0.95"/>
<circle cx="45.37" cy="225.09" r="0.95"/>
<circle cx="47.50" cy="225.07" r="0.95"/>
<circle cx="49.64" cy="225.04" r="0.95"/>
<circle cx="51.77" cy="225.01" r="0.95"/>
<circle cx="53.90" cy="224.98" r="0.95"/>
<circle cx="56.04" cy="224.93" r="0.95"/>
<circle cx="58.17" cy="224.88" r="0.95"/>
<circle cx="60.31" cy="224.82" r="0.95"/>
<circle cx="62.44" cy="224.76" r="0.95"/>
<circle cx="64.57" cy="224.68" r="0.95"/>
<circle cx="66.71" cy="224.60" r="0.95"/>
<circle cx="68.84" cy="224.52" r="0.95"/>
<circle cx="70.98" cy="224.43" r="0.95"/>
<circle cx="73.11" cy="224.33" r="0.95"/>
<circle cx="75.24" cy="224.22" r="0.95"/>
<circle cx="77.38" cy="224.11" r="0.95"/>
<circle cx="79.51" cy="223.99" r="0.95"/>
<circle cx="81.65" cy="223.86" r="0.95"/>
<circle cx="83.78" cy="223.73" r="0.95"/>
<circle cx="85.91" cy="223.59" r="0.95"/>
<circle cx="88.05" cy="223.44" r="0.95"/>
<circle cx="90.18" cy="223.29" r="0.95"/>
<circle cx="92.32" cy="223.13" r="0.95"/>
<circle cx="94.45" cy="222.96" r="0.95"/>
<circle cx="96.58" cy="222.79" r="0.95"/>
<circle cx="98.72" cy="222.61" r="0.95"/>
<circle cx="100.85" cy="222.42" r="0.95"/>
<circle cx="102.99" cy="222.23" r="0.95"/>
<circle cx="105.12" cy="222.03" r="0.95"/>
<circle cx="107.25" cy="221.82" r="0.95"/>
<circle cx="109.39" cy="221.61" r="0.95"/>
<circle cx="111.52" cy="221.39" r="0.95"/>
<circle cx="113.66" cy="221.16" r="0.95"/>
<circle cx="115.79" cy="220.93" r="0.95"/>
<circle cx="117.92" cy="220.69" r="0.95"/>
<circle cx="120.06" cy="220.45" r="0.95"/>
<circle cx="122.19" cy="220.20" r="0.95"/>
<circle cx="124.33" cy="219.94" r="0.95"/>
<circle cx="126.46" cy="219.68" r="0.95"/>
<circle cx="128.59" cy="219.41" r="0.95"/>
<circle cx="130.73" cy="219.13" r="0.95"/>
<circle cx="132.86" cy="218.85" r="0.95"/>
<circle cx="135.00" cy="218.56" r="0.95"/>
<circle cx="137.13" cy="218.27" r="0.95"/>
<circle cx="139.26" cy="217.97" r="0.95"/>
<circle cx="141.40" cy="217.66" r="0.95"/>
<circle cx="143.53" cy="217.35" r="0.95"/>
<circle cx="145.67" cy="217.03" r="0.95"/>
<circle cx="147.80" cy="216.71" r="0.95"/>
<circle cx="149.93" cy="216.38" r="0.95"/>
<circle cx="152.07" cy="216.04" r="0.95"/>
<circle cx="154.20" cy="215.70" r="0.95"/>
<circle cx="156.34" cy="215.36" r="0.95"/>
<circle cx="158.47" cy="215.00" r="0.95"/>
<circle cx="160.60" cy="214.64" r="0.95"/>
<circle cx="162.74" cy="214.28" r="0.95"/>
<circle cx="164.87" cy="213.91" r="0.95"/>
<circle cx="167.01" cy="213.54" r="0.95"/>
<circle cx="169.14" cy="213.16" r="0.95"/>
<circle cx="171.27" cy="212.77" r="0.95"/>
<circle cx="173.41" cy="212.38" r="0.95"/>
<circle cx="175.54" cy="211.99" r="0.95"/>
<circle cx="177.68" cy="211.59" r="0.95"/>
<circle cx="179.81" cy="211.18" r="0.95"/>
<circle cx="181.94" cy="210.77" r="0.95"/>
<circle cx="184.08" cy="210.35" r="0.95"/>
<circle cx="186.21" cy="209.93" r="0.95"/>
<circle cx="188.35" cy="209.50" r="0.95"/>
<circle cx="190.48" cy="209.07" r="0.95"/>
<circle cx="192.61" cy="208.64" r="0.95"/>
<circle cx="194.75" cy="208.20" r="0.95"/>
<circle cx="196.88" cy="207.75" r="0.95"/>
<circle cx="199.02" cy="207.30" r="0.95"/>
<circle cx="201.15" cy="206.85" r="0.95"/>
<circle cx="203.28" cy="206.39" r="0.95"/>
<circle cx="205.42" cy="205.93" r="0.95"/>
<circle cx="207.55" cy="205.46" r="0.95"/>
<circle cx="209.69" cy="204.99" r="0.95"/>
<circle cx="211.82" cy="204.51" r="0.95"/>
<circle cx="213.95" cy="204.03" r="0.95"/>
<circle cx="216.09" cy="203.55" r="0.95"/>
<circle cx="218.22" cy="203.06" r="0.95"/>
<circle cx="220.36" cy="202.57" r="0.95"/>
<circle cx="222.49" cy="202.07" r="0.95"/>
<circle cx="224.62" cy="201.57" r="0.95"/>
<circle cx="226.76" cy="201.07" r="0.95"/>
<circle cx="228.89" cy="200.56" r="0.95"/>
<circle cx="231.03" cy="200.05" r="0.95"/>
<circle cx="233.16" cy="199.54" r="0.95"/>
<circle cx="235.29" cy="199.02" r="0.95"/>
<circle cx="237.43" cy="198.50" r="0.95"/>
<circle cx="239.56" cy="197.98" r="0.95"/>
<circle cx="241.70" cy="197.45" r="0.95"/>
<circle cx="243.83" cy="196.92" r="0.95"/>
<circle cx="245.96" cy="196.39" r="0.95"/>
<circle cx="248.10" cy="195.85" r="0.95"/>
<circle cx="250.23" cy="195.31" r="0.95"/>
<circle cx="252.37" cy="194.77" r="0.95"/>
<circle cx="254.50" cy="194.23" r="0.95"/>
<circle cx="256.63" cy="193.68" r="0.95"/>
<circle cx="258.77" cy="193.13" r="0.95"/>
<circle cx="260.90" cy="192.58" r="0.95"/>
<circle cx="263.04" cy="192.02" r="0.95"/>
<circle cx="265.17" cy="191.47" r="0.95"/>
<circle cx="267.30" cy="190.91" r="0.95"/>
<circle cx="269.44" cy="190.35" r="0.95"/>
<circle cx="271.57" cy="189.79" r="0.95"/>
<circle cx="273.71" cy="189.22" r="0.95"/>
<circle cx="275.84" cy="188.66" r="0.95"/>
<circle cx="277.97" cy="188.09" r="0.95"/>
<circle cx="280.11" cy="187.52" r="0.95"/>
<circle cx="282.24" cy="186.95" r="0.95"/>
<circle cx="284.38" cy="186.38" r="0.95"/>
<circle cx="286.51" cy="185.80" r="0.95"/>
<circle cx="288.64" cy="185.23" r="0.95"/>
<circle cx="290.78" cy="184.65" r="0.95"/>
<circle cx="292.91" cy="184.08" r="0.95"/>
<circle cx="295.05" cy="183.50" r="0.95"/>
<circle cx="297.18" cy="182.92" r="0.95"/>
<circle cx="299.31" cy="182.34" r="0.95"/>
<circle cx="301.45" cy="181.76" r="0.95"/>
<circle cx="303.58" cy="181.18" r="0.95"/>
<circle cx="305.72" cy="180.60" r="0.95"/>
<circle cx="307.85" cy="180.02" r="0.95"/>
<circle cx="309.98" cy="179.44" r="0.95"/>
<circle cx="312.12" cy="178.86" r="0.95"/>
<circle cx="314.25" cy="178.28" r="0.95"/>
<circle cx="316.39" cy="177.69" r="0.95"/>
<circle cx="318.52" cy="177.11" r="0.95"/>
<circle cx="320.65" cy="176.53" r="0.95"/>
<circle cx="322.79" cy="175.95" r="0.95"/>
<circle cx="324.92" cy="175.38" r="0.95"/>
<circle cx="327.06" cy="174.80" r="0.95"/>
<circle cx="329.19" cy="174.22" r="0.95"/>
<circle cx="331.32" cy="173.64" r="0.95"/>
<circle cx="333.46" cy="173.07" r="0.95"/>
<circle cx="335.59" cy="172.49" r="0.95"/>
<circle cx="337.73" cy="171.92" r="0.95"/>
<circle cx="339.86" cy="171.35" r="0.95"/>
<circle cx="341.99" cy="170.78" r="0.95"/>
<circle cx="344.13" cy="170.21" r="0.95"/>
<circle cx="346.26" cy="169.65" r="0.95"/>
<circle cx="348.40" cy="169.08" r="0.95"/>
<circle cx="350.53" cy="168.52" r="0.95"/>
<circle cx="352.66" cy="167.96" r="0.95"/>
<circle cx="354.80" cy="167.40" r="0.95"/>
<circle cx="356.93" cy="166.84" r="0.95"/>
<circle cx="359.07" cy="166.29" r="0.95"/>
<rect x="255.55" y="192.05" width="1.9" height="1.9"/>
<rect x="276.95" y="186.55" width="1.9" height="1.9"/>
<rect x="298.35" y="181.05" width="1.9" height="1.9"/>
<rect x="319.85" y="174.45" width="1.9" height="1.9"/>
<rect x="340.95" y="166.15" width="1.9" height="1.9"/>
</g>
<g fill="none" stroke="#ffff00" stroke-width="0.5">
<circle cx="41.10" cy="225.10" r="1.0"/>
<circle cx="43.23" cy="225.10" r="1.0"/>
<circle cx="45.37" cy="225.09" r="1.0"/>
<circle cx="47.50" cy="225.07" r="1.0"/>
<circle cx="49.64" cy="225.05" r="1.0"/>
<circle cx="51.77" cy="225.02" r="1.0"/>
<circle cx="53.90" cy="224.98" r="1.0"/>
<circle cx="56.04" cy="224.93" r="1.0"/>
<circle cx="58.17" cy="224.88" r="1.0"/>
<circle cx="60.31" cy="224.83" r="1.0"/>
<circle cx="62.44" cy="224.76" r="1.0"/>
<circle cx="64.57" cy="224.69" r="1.0"/>
<circle cx="66.71" cy="224.62" r="1.0"/>
<circle cx="68.84" cy="224.53" r="1.0"/>
<circle cx="70.98" cy="224.44" r="1.0"/>
<circle cx="73.11" cy="224.34" r="1.0"/>
<circle cx="75.24" cy="224.24" r="1.0"/>
<circle cx="77.38" cy="224.13" r="1.0"/>
<circle cx="79.51" cy="224.01" r="1.0"/>
<circle cx="81.65" cy="223.89" r="1.0"/>
<circle cx="83.78" cy="223.76" r="1.0"/>
<circle cx="85.91" cy="223.62" r="1.0"/>
<circle cx="88.05" cy="223.48" r="1.0"/>
<circle cx="90.18" cy="223.33" r="1.0"/>
<circle cx="92.32" cy="223.18" r="1.0"/>
<circle cx="94.45" cy="223.01" r="1.0"/>
<circle cx="96.58" cy="222.85" r="1.0"/>
<circle cx="98.72" cy="222.67" r="1.0"/>
<circle cx="100.85" cy="222.49" r="1.0"/>
<circle cx="102.99" cy="222.30" r="1.0"/>
<circle cx="105.12" cy="222.11" r="1.0"/>
<circle cx="107.25" cy="221.91" r="1.0"/>
<circle cx="109.39" cy="221.71" r="1.0"/>
<circle cx="111.52" cy="221.49" r="1.0"/>
<circle cx="113.66" cy="221.28" r="1.0"/>
<circle cx="115.79" cy="221.05" r="1.0"/>
<circle cx="117.92" cy="220.82" r="1.0"/>
<circle cx="120.06" cy="220.59" r="1.0"/>
<circle cx="122.19" cy="220.35" r="1.0"/>
<circle cx="124.33" cy="220.10" r="1.0"/>
<circle cx="126.46" cy="219.85" r="1.0"/>
<circle cx="128.59" cy="219.59" r="1.0"/>
<circle cx="130.73" cy="219.33" r="1.0"/>
<circle cx="132.86" cy="219.06" r="1.0"/>
<circle cx="135.00" cy="218.78" r="1.0"/>
<circle cx="137.13" cy="218.50" r="1.0"/>
<circle cx="139.26" cy="218.22" r="1.0"/>
<circle cx="141.40" cy="217.93" r="1.0"/>
<circle cx="143.53" cy="217.63" r="1.0"/>
<circle cx="145.67" cy="217.33" r="1.0"/>
<circle cx="147.80" cy="217.02" r="1.0"/>
<circle cx="149.93" cy="216.71" r="1.0"/>
<circle cx="152.07" cy="216.40" r="1.0"/>
<circle cx="154.20" cy="216.08" r="1.0"/>
<circle cx="156.34" cy="215.75" r="1.0"/>
<circle cx="158.47" cy="215.42" r="1.0"/>
<circle cx="160.60" cy="215.08" r="1.0"/>
<circle cx="162.74" cy="214.74" r="1.0"/>
<circle cx="164.87" cy="214.40" r="1.0"/>
<circle cx="167.01" cy="214.05" r="1.0"/>
<circle cx="169.14" cy="213.70" r="1.0"/>
<circle cx="171.27" cy="213.34" r="1.0"/>
<circle cx="173.41" cy="212.98" r="1.0"/>
<circle cx="175.54" cy="212.61" r="1.0"/>
<circle cx="177.68" cy="212.24" r="1.0"/>
<circle cx="179.81" cy="211.87" r="1.0"/>
<circle cx="181.94" cy="211.49" r="1.0"/>
<circle cx="184.08" cy="211.11" r="1.0"/>
<circle cx="186.21" cy="210.72" r="1.0"/>
<circle cx="188.35" cy="210.34" r="1.0"/>
<circle cx="190.48" cy="209.94" r="1.0"/>
<circle cx="192.61" cy="209.55" r="1.0"/>
<circle cx="194.75" cy="209.15" r="1.0"/>
<circle cx="196.88" cy="208.75" r="1.0"/>
<circle cx="199.02" cy="208.34" r="1.0"/>
<circle cx="201.15" cy="207.93" r="1.0"/>
<circle cx="203.28" cy="207.52" r="1.0"/>
<circle cx="205.42" cy="207.11" r="1.0"/>
<circle cx="207.55" cy="206.69" r="1.0"/>
<circle cx="209.69" cy="206.27" r="1.0"/>
<circle cx="211.82" cy="205.85" r="1.0"/>
<circle cx="213.95" cy="205.43" r="1.0"/>
<circle cx="216.09" cy="205.00" r="1.0"/>
<circle cx="218.22" cy="204.58" r="1.0"/>
<circle cx="220.36" cy="204.15" r="1.0"/>
<circle cx="222.49" cy="203.71" r="1.0"/>
<circle cx="224.62" cy="203.28" r="1.0"/>
<circle cx="226.76" cy="202.84" r="1.0"/>
<circle cx="228.89" cy="202.41" r="1.0"/>
<circle cx="231.03" cy="201.97" r="1.0"/>
<circle cx="233.16" cy="201.53" r="1.0"/>
<circle cx="235.29" cy="201.09" r="1.0"/>
<circle cx="237.43" cy="200.65" r="1.0"/>
<circle cx="239.56" cy="200.20" r="1.0"/>
<circle cx="241.70" cy="199.76" r="1.0"/>
<circle cx="243.83" cy="199.31" r="1.0"/>
<circle cx="245.96" cy="198.87" r="1.0"/>
<circle cx="248.10" cy="198.42" r="1.0"/>
<circle cx="250.23" cy="197.98" r="1.0"/>
<circle cx="252.37" cy="197.53" r="1.0"/>
<circle cx="254.50" cy="197.09" r="1.0"/>
<circle cx="256.63" cy="196.64" r="1.0"/>
<circle cx="258.77" cy="196.20" r="1.0"/>
<circle cx="260.90" cy="195.75" r="1.0"/>
<circle cx="263.04" cy="195.31" r="1.0"/>
<circle cx="265.17" cy="194.86" r="1.0"/>
<circle cx="267.30" cy="194.42" r="1.0"/>
<circle cx="269.44" cy="193.98" r="1.0"/>
<circle cx="271.57" cy="193.54" r="1.0"/>
<circle cx="273.71" cy="193.10" r="1.0"/>
<circle cx="275.84" cy="192.66" r="1.0"/>
<circle cx="277.97" cy="192.22" r="1.0"/>
<circle cx="280.11" cy="191.79" r="1.0"/>
<circle cx="282.24" cy="191.35" r="1.0"/>
<circle cx="284.38" cy="190.92" r="1.0"/>
<circle cx="286.51" cy="190.49" r="1.0"/>
<circle cx="288.64" cy="190.07" r="1.0"/>
<circle cx="290.78" cy="189.64" r="1.0"/>
<circle cx="292.91" cy="189.22" r="1.0"/>
<circle cx="295.05" cy="188.80" r="1.0"/>
<circle cx="297.18" cy="188.38" r="1.0"/>
<circle cx="299.31" cy="187.97" r="1.0"/>
<circle cx="301.45" cy="187.56" r="1.0"/>
<circle cx="303.58" cy="187.16" r="1.0"/>
<circle cx="305.72" cy="186.75" r="1.0"/>
<circle cx="307.85" cy="186.36" r="1.0"/>
<circle cx="309.98" cy="185.96" r="1.0"/>
<circle cx="312.12" cy="185.57" r="1.0"/>
<circle cx="314.25" cy="185.19" r="1.0"/>
<circle cx="316.39" cy="184.80" r="1.0"/>
<circle cx="318.52" cy="184.43" r="1.0"/>
<circle cx="320.65" cy="184.06" r="1.0"/>
<circle cx="322.79" cy="183.69" r="1.0"/>
<circle cx="324.92" cy="183.33" r="1.0"/>
<circle cx="327.06" cy="182.97" r="1.0"/>
<circle cx="329.19" cy="182.62" r="1.0"/>
<circle cx="331.32" cy="182.28" r="1.0"/>
<circle cx="333.46" cy="181.94" r="1.0"/>
<circle cx="335.59" cy="181.60" r="1.0"/>
<circle cx="337.73" cy="181.28" r="1.0"/>
<circle cx="339.86" cy="180.96" r="1.0"/>
<circle cx="341.99" cy="180.64" r="1.0"/>
<circle cx="344.13" cy="180.34" r="1.0"/>
<circle cx="346.26" cy="180.04" r="1.0"/>
<circle cx="348.40" cy="179.75" r="1.0"/>
<circle cx="350.53" cy="179.46" r="1.0"/>
<circle cx="352.66" cy="179.18" r="1.0"/>
<circle cx="354.80" cy="178.92" r="1.0"/>
<circle cx="356.93" cy="178.65" r="1.0"/>
<circle cx="359.07" cy="178.40" r="1.0"/>
</g>
<g fill="#ffff00">
<circle cx="41.10" cy="225.10" r="0.95"/>
<circle cx="43.23" cy="225.10" r="0.95"/>
<circle cx="45.37" cy="225.09" r="0.95"/>
<circle cx="47.50" cy="225.07" r="0.95"/>
<circle cx="49.64" cy="225.04" r="0.95"/>
<circle cx="51.77" cy="225.01" r="0.95"/>
<circle cx="53.90" cy="224.97" r="0.95"/>
<circle cx="56.04" cy="224.92" r="0.95"/>
<circle cx="58.17" cy="224.87" r="0.95"/>
<circle cx="60.31" cy="224.81" r="0.95"/>
<circle cx="62.44" cy="224.74" r="0.95"/>
<circle cx="64.57" cy="224.66" r="0.95"/>
<circle cx="66.71" cy="224.58" r="0.95"/>
<circle cx="68.84" cy="224.49" r="0.95"/>
<circle cx="70.98" cy="224.39" r="0.95"/>
<circle cx="73.11" cy="224.29" r="0.95"/>
<circle cx="75.24" cy="224.17" r="0.95"/>
<circle cx="77.38" cy="224.06" r="0.95"/>
<circle cx="79.51" cy="223.93" r="0.95"/>
<circle cx="81.65" cy="223.80" r="0.95"/>
<circle cx="83.78" cy="223.66" r="0.95"/>
<circle cx="85.91" cy="223.51" r="0.95"/>
<circle cx="88.05" cy="223.36" r="0.95"/>
<circle cx="90.18" cy="223.20" r="0.95"/>
<circle cx="92.32" cy="223.03" r="0.95"/>
<circle cx="94.45" cy="222.85" r="0.95"/>
<circle cx="96.58" cy="222.67" r="0.95"/>
<circle cx="98.72" cy="222.48" r="0.95"/>
<circle cx="100.85" cy="222.29" r="0.95"/>
<circle cx="102.99" cy="222.09" r="0.95"/>
<circle cx="105.12" cy="221.88" r="0.95"/>
<circle cx="107.25" cy="221.66" r="0.95"/>
<circle cx="109.39" cy="221.44" r="0.95"/>
<circle cx="111.52" cy="221.21" r="0.95"/>
<circle cx="113.66" cy="220.98" r="0.95"/>
<circle cx="115.79" cy="220.74" r="0.95"/>
<circle cx="117.92" cy="220.49" r="0.95"/>
<circle cx="120.06" cy="220.23" r="0.95"/>
<circle cx="122.19" cy="219.97" r="0.95"/>
<circle cx="124.33" cy="219.71" r="0.95"/>
<circle cx="126.46" cy="219.43" r="0.95"/>
<circle cx="128.59" cy="219.16" r="0.95"/>
<circle cx="130.73" cy="218.87" r="0.95"/>
<circle cx="132.86" cy="218.58" r="0.95"/>
<circle cx="135.00" cy="218.28" r="0.95"/>
<circle cx="137.13" cy="217.98" r="0.95"/>
<circle cx="139.26" cy="217.67" r="0.95"/>
<circle cx="141.40" cy="217.35" r="0.95"/>
<circle cx="143.53" cy="217.03" r="0.95"/>
<circle cx="145.67" cy="216.71" r="0.95"/>
<circle cx="147.80" cy="216.37" r="0.95"/>
<circle cx="149.93" cy="216.04" r="0.95"/>
<circle cx="152.07" cy="215.69" r="0.95"/>
<circle cx="154.20" cy="215.34" r="0.95"/>
<circle cx="156.34" cy="214.99" r="0.95"/>
<circle cx="158.47" cy="214.63" r="0.95"/>
<circle cx="160.60" cy="214.26" r="0.95"/>
<circle cx="162.74" cy="213.89" r="0.95"/>
<circle cx="164.87" cy="213.52" r="0.95"/>
<circle cx="167.01" cy="213.14" r="0.95"/>
<circle cx="169.14" cy="212.75" r="0.95"/>
<circle cx="171.27" cy="212.36" r="0.95"/>
<circle cx="173.41" cy="211.97" r="0.95"/>
<circle cx="175.54" cy="211.57" r="0.95"/>
<circle cx="177.68" cy="211.17" r="0.95"/>
<circle cx="179.81" cy="210.76" r="0.95"/>
<circle cx="181.94" cy="210.35" r="0.95"/>
<circle cx="184.08" cy="209.93" r="0.95"/>
<circle cx="186.21" cy="209.51" r="0.95"/>
<circle cx="188.35" cy="209.08" r="0.95"/>
<circle cx="190.48" cy="208.65" r="0.95"/>
<circle cx="192.61" cy="208.22" r="0.95"/>
<circle cx="194.75" cy="207.78" r="0.95"/>
<circle cx="196.88" cy="207.34" r="0.95"/>
<circle cx="199.02" cy="206.89" r="0.95"/>
<circle cx="201.15" cy="206.44" r="0.95"/>
<circle cx="203.28" cy="205.99" r="0.95"/>
<circle cx="205.42" cy="205.54" r="0.95"/>
<circle cx="207.55" cy="205.08" r="0.95"/>
<circle cx="209.69" cy="204.62" r="0.95"/>
<circle cx="211.82" cy="204.15" r="0.95"/>
<circle cx="213.95" cy="203.68" r="0.95"/>
<circle cx="216.09" cy="203.21" r="0.95"/>
<circle cx="218.22" cy="202.74" r="0.95"/>
<circle cx="220.36" cy="202.26" r="0.95"/>
<circle cx="222.49" cy="201.78" r="0.95"/>
<circle cx="224.62" cy="201.30" r="0.95"/>
<circle cx="226.76" cy="200.82" r="0.95"/>
<circle cx="228.89" cy="200.33" r="0.95"/>
<circle cx="231.03" cy="199.84" r="0.95"/>
<circle cx="233.16" cy="199.35" r="0.95"/>
<circle cx="235.29" cy="198.86" r="0.95"/>
<circle cx="237.43" cy="198.37" r="0.95"/>
<circle cx="239.56" cy="197.87" r="0.95"/>
<circle cx="241.70" cy="197.38" r="0.95"/>
<circle cx="243.83" cy="196.88" r="0.95"/>
<circle cx="245.96" cy="196.38" r="0.95"/>
<circle cx="248.10" cy="195.88" r="0.95"/>
<circle cx="250.23" cy="195.38" r="0.95"/>
<circle cx="252.37" cy="194.88" r="0.95"/>
<circle cx="254.50" cy="194.37" r="0.95"/>
<circle cx="256.63" cy="193.87" r="0.95"/>
<circle cx="258.77" cy="193.37" r="0.95"/>
<circle cx="260.90" cy="192.86" r="0.95"/>
<circle cx="263.04" cy="192.36" r="0.95"/>
<circle cx="265.17" cy="191.85" r="0.95"/>
<circle cx="267.30" cy="191.35" r="0.95"/>
<circle cx="269.44" cy="190.85" r="0.95"/>
<circle cx="271.57" cy="190.34" r="0.95"/>
<circle cx="273.71" cy="189.84" r="0.95"/>
<circle cx="275.84" cy="189.34" r="0.95"/>
<circle cx="277.97" cy="188.84" r="0.95"/>
<circle cx="280.11" cy="188.34" r="0.95"/>
<circle cx="282.24" cy="187.84" r="0.95"/>
<circle cx="284.38" cy="187.34" r="0.95"/>
<circle cx="286.51" cy="186.84" r="0.95"/>
<circle cx="288.64" cy="186.35" r="0.95"/>
<circle cx="290.78" cy="185.85" r="0.95"/>
<circle cx="292.91" cy="185.36" r="0.95"/>
<circle cx="295.05" cy="184.87" r="0.95"/>
<circle cx="297.18" cy="184.38" r="0.95"/>
<circle cx="299.31" cy="183.90" r="0.95"/>
<circle cx="301.45" cy="183.42" r="0.95"/>
<circle cx="303.58" cy="182.94" r="0.95"/>
<circle cx="305.72" cy="182.46" r="0.95"/>
<circle cx="307.85" cy="181.99" r="0.95"/>
<circle cx="309.98" cy="181.52" r="0.95"/>
<circle cx="312.12" cy="181.05" r="0.95"/>
<circle cx="314.25" cy="180.59" r="0.95"/>
<circle cx="316.39" cy="180.13" r="0.95"/>
<circle cx="318.52" cy="179.67" r="0.95"/>
<circle cx="320.65" cy="179.22" r="0.95"/>
<circle cx="322.79" cy="178.77" r="0.95"/>
<circle cx="324.92" cy="178.33" r="0.95"/>
<circle cx="327.06" cy="177.89" r="0.95"/>
<circle cx="329.19" cy="177.46" r="0.95"/>
<circle cx="331.32" cy="177.03" r="0.95"/>
<circle cx="333.46" cy="176.60" r="0.95"/>
<circle cx="335.59" cy="176.18" r="0.95"/>
<circle cx="337.73" cy="175.77" r="0.95"/>
<circle cx="339.86" cy="175.36" r="0.95"/>
<circle cx="341.99" cy="174.96" r="0.95"/>
<circle cx="344.13" cy="174.57" r="0.95"/>
<circle cx="346.26" cy="174.18" r="0.95"/>
<circle cx="348.40" cy="173.79" r="0.95"/>
<circle cx="350.53" cy="173.42" r="0.95"/>
<circle cx="352.66" cy="173.05" r="0.95"/>
<circle cx="354.80" cy="172.68" r="0.95"/>
<circle cx="356.93" cy="172.33" r="0.95"/>
<circle cx="359.07" cy="171.98" r="0.95"/>
<rect x="255.55" y="192.25" width="1.9" height="1.9"/>
<rect x="276.95" y="186.75" width="1.9" height="1.9"/>
<rect x="298.35" y="180.95" width="1.9" height="1.9"/>
<rect x="319.85" y="176.75" width="1.9" height="1.9"/>
</g>
<g fill="none" stroke="#0000ff" stroke-width="0.55">
<circle cx="41.10" cy="225.10" r="1.0"/>
<circle cx="43.23" cy="225.10" r="1.0"/>
<circle cx="45.37" cy="225.09" r="1.0"/>
<circle cx="47.50" cy="225.07" r="1.0"/>
<circle cx="49.64" cy="225.05" r="1.0"/>
<circle cx="51.77" cy="225.02" r="1.0"/>
<circle cx="53.90" cy="224.98" r="1.0"/>
<circle cx="56.04" cy="224.93" r="1.0"/>
<circle cx="58.17" cy="224.88" r="1.0"/>
<circle cx="60.31" cy="224.83" r="1.0"/>
<circle cx="62.44" cy="224.76" r="1.0"/>
<circle cx="64.57" cy="224.69" r="1.0"/>
<circle cx="66.71" cy="224.61" r="1.0"/>
<circle cx="68.84" cy="224.53" r="1.0"/>
<circle cx="70.98" cy="224.44" r="1.0"/>
<circle cx="73.11" cy="224.34" r="1.0"/>
<circle cx="75.24" cy="224.24" r="1.0"/>
<circle cx="77.38" cy="224.12" r="1.0"/>
<circle cx="79.51" cy="224.01" r="1.0"/>
<circle cx="81.65" cy="223.88" r="1.0"/>
<circle cx="83.78" cy="223.75" r="1.0"/>
<circle cx="85.91" cy="223.61" r="1.0"/>
<circle cx="88.05" cy="223.47" r="1.0"/>
<circle cx="90.18" cy="223.32" r="1.0"/>
<circle cx="92.32" cy="223.16" r="1.0"/>
<circle cx="94.45" cy="223.00" r="1.0"/>
<circle cx="96.58" cy="222.83" r="1.0"/>
<circle cx="98.72" cy="222.65" r="1.0"/>
<circle cx="100.85" cy="222.47" r="1.0"/>
<circle cx="102.99" cy="222.28" r="1.0"/>
<circle cx="105.12" cy="222.08" r="1.0"/>
<circle cx="107.25" cy="221.88" r="1.0"/>
<circle cx="109.39" cy="221.67" r="1.0"/>
<circle cx="111.52" cy="221.46" r="1.0"/>
<circle cx="113.66" cy="221.24" r="1.0"/>
<circle cx="115.79" cy="221.01" r="1.0"/>
<circle cx="117.92" cy="220.77" r="1.0"/>
<circle cx="120.06" cy="220.54" r="1.0"/>
<circle cx="122.19" cy="220.29" r="1.0"/>
<circle cx="124.33" cy="220.04" r="1.0"/>
<circle cx="126.46" cy="219.78" r="1.0"/>
<circle cx="128.59" cy="219.52" r="1.0"/>
<circle cx="130.73" cy="219.25" r="1.0"/>
<circle cx="132.86" cy="218.97" r="1.0"/>
<circle cx="135.00" cy="218.69" r="1.0"/>
<circle cx="137.13" cy="218.40" r="1.0"/>
<circle cx="139.26" cy="218.11" r="1.0"/>
<circle cx="141.40" cy="217.81" r="1.0"/>
<circle cx="143.53" cy="217.50" r="1.0"/>
<circle cx="145.67" cy="217.19" r="1.0"/>
<circle cx="147.80" cy="216.87" r="1.0"/>
<circle cx="149.93" cy="216.55" r="1.0"/>
<circle cx="152.07" cy="216.23" r="1.0"/>
<circle cx="154.20" cy="215.89" r="1.0"/>
<circle cx="156.34" cy="215.55" r="1.0"/>
<circle cx="158.47" cy="215.21" r="1.0"/>
<circle cx="160.60" cy="214.86" r="1.0"/>
<circle cx="162.74" cy="214.51" r="1.0"/>
<circle cx="164.87" cy="214.15" r="1.0"/>
<circle cx="167.01" cy="213.78" r="1.0"/>
<circle cx="169.14" cy="213.41" r="1.0"/>
<circle cx="171.27" cy="213.04" r="1.0"/>
<circle cx="173.41" cy="212.66" r="1.0"/>
<circle cx="175.54" cy="212.27" r="1.0"/>
<circle cx="177.68" cy="211.88" r="1.0"/>
<circle cx="179.81" cy="211.49" r="1.0"/>
<circle cx="181.94" cy="211.09" r="1.0"/>
<circle cx="184.08" cy="210.68" r="1.0"/>
<circle cx="186.21" cy="210.27" r="1.0"/>
<circle cx="188.35" cy="209.86" r="1.0"/>
<circle cx="190.48" cy="209.44" r="1.0"/>
<circle cx="192.61" cy="209.02" r="1.0"/>
<circle cx="194.75" cy="208.59" r="1.0"/>
<circle cx="196.88" cy="208.16" r="1.0"/>
<circle cx="199.02" cy="207.72" r="1.0"/>
<circle cx="201.15" cy="207.28" r="1.0"/>
<circle cx="203.28" cy="206.84" r="1.0"/>
<circle cx="205.42" cy="206.39" r="1.0"/>
<circle cx="207.55" cy="205.94" r="1.0"/>
<circle cx="209.69" cy="205.48" r="1.0"/>
<circle cx="211.82" cy="205.02" r="1.0"/>
<circle cx="213.95" cy="204.56" r="1.0"/>
<circle cx="216.09" cy="204.09" r="1.0"/>
<circle cx="218.22" cy="203.62" r="1.0"/>
<circle cx="220.36" cy="203.15" r="1.0"/>
<circle cx="222.49" cy="202.67" r="1.0"/>
<circle cx="224.62" cy="202.19" r="1.0"/>
<circle cx="226.76" cy="201.70" r="1.0"/>
<circle cx="228.89" cy="201.21" r="1.0"/>
<circle cx="231.03" cy="200.72" r="1.0"/>
<circle cx="233.16" cy="200.23" r="1.0"/>
<circle cx="235.29" cy="199.73" r="1.0"/>
<circle cx="237.43" cy="199.23" r="1.0"/>
<circle cx="239.56" cy="198.73" r="1.0"/>
<circle cx="241.70" cy="198.22" r="1.0"/>
<circle cx="243.83" cy="197.72" r="1.0"/>
<circle cx="245.96" cy="197.21" r="1.0"/>
<circle cx="248.10" cy="196.69" r="1.0"/>
<circle cx="250.23" cy="196.18" r="1.0"/>
<circle cx="252.37" cy="195.66" r="1.0"/>
<circle cx="254.50" cy="195.14" r="1.0"/>
<circle cx="256.63" cy="194.62" r="1.0"/>
<circle cx="258.77" cy="194.09" r="1.0"/>
<circle cx="260.90" cy="193.57" r="1.0"/>
<circle cx="263.04" cy="193.04" r="1.0"/>
<circle cx="265.17" cy="192.51" r="1.0"/>
<circle cx="267.30" cy="191.98" r="1.0"/>
<circle cx="269.44" cy="191.45" r="1.0"/>
<circle cx="271.57" cy="190.92" r="1.0"/>
<circle cx="273.71" cy="190.38" r="1.0"/>
<circle cx="275.84" cy="189.84" r="1.0"/>
<circle cx="277.97" cy="189.31" r="1.0"/>
<circle cx="280.11" cy="188.77" r="1.0"/>
<circle cx="282.24" cy="188.23" r="1.0"/>
<circle cx="284.38" cy="187.69" r="1.0"/>
<circle cx="286.51" cy="187.15" r="1.0"/>
<circle cx="288.64" cy="186.61" r="1.0"/>
<circle cx="290.78" cy="186.07" r="1.0"/>
<circle cx="292.91" cy="185.52" r="1.0"/>
<circle cx="295.05" cy="184.98" r="1.0"/>
<circle cx="297.18" cy="184.44" r="1.0"/>
<circle cx="299.31" cy="183.90" r="1.0"/>
<circle cx="301.45" cy="183.36" r="1.0"/>
<circle cx="303.58" cy="182.81" r="1.0"/>
<circle cx="305.72" cy="182.27" r="1.0"/>
<circle cx="307.85" cy="181.73" r="1.0"/>
<circle cx="309.98" cy="181.19" r="1.0"/>
<circle cx="312.12" cy="180.65" r="1.0"/>
<circle cx="314.25" cy="180.11" r="1.0"/>
<circle cx="316.39" cy="179.57" r="1.0"/>
<circle cx="318.52" cy="179.04" r="1.0"/>
<circle cx="320.65" cy="178.50" r="1.0"/>
<circle cx="322.79" cy="177.97" r="1.0"/>
<circle cx="324.92" cy="177.43" r="1.0"/>
<circle cx="327.06" cy="176.90" r="1.0"/>
<circle cx="329.19" cy="176.37" r="1.0"/>
<circle cx="331.32" cy="175.84" r="1.0"/>
<circle cx="333.46" cy="175.32" r="1.0"/>
<circle cx="335.59" cy="174.79" r="1.0"/>
<circle cx="337.73" cy="174.27" r="1.0"/>
<circle cx="339.86" cy="173.75" r="1.0"/>
<circle cx="341.99" cy="173.24" r="1.0"/>
<circle cx="344.13" cy="172.72" r="1.0"/>
<circle cx="346.26" cy="172.21" r="1.0"/>
<circle cx="348.40" cy="171.70" r="1.0"/>
<circle cx="350.53" cy="171.19" r="1.0"/>
<circle cx="352.66" cy="170.69" r="1.0"/>
<circle cx="354.80" cy="170.19" r="1.0"/>
<circle cx="356.93" cy="169.70" r="1.0"/>
<circle cx="359.07" cy="169.20" r="1.0"/>
</g>
<g fill="#0000ff">
<circle cx="41.10" cy="225.10" r="0.95"/>
<circle cx="43.23" cy="225.10" r="0.95"/>
<circle cx="45.37" cy="225.09" r="0.95"/>
<circle cx="47.50" cy="225.07" r="0.95"/>
<circle cx="49.64" cy="225.04" r="0.95"/>
<circle cx="51.77" cy="225.01" r="0.95"/>
<circle cx="53.90" cy="224.97" r="0.95"/>
<circle cx="56.04" cy="224.93" r="0.95"/>
<circle cx="58.17" cy="224.87" r="0.95"/>
<circle cx="60.31" cy="224.81" r="0.95"/>
<circle cx="62.44" cy="224.75" r="0.95"/>
<circle cx="64.57" cy="224.67" r="0.95"/>
<circle cx="66.71" cy="224.59" r="0.95"/>
<circle cx="68.84" cy="224.51" r="0.95"/>
<circle cx="70.98" cy="224.41" r="0.95"/>
<circle cx="73.11" cy="224.31" r="0.95"/>
<circle cx="75.24" cy="224.20" r="0.95"/>
<circle cx="77.38" cy="224.08" r="0.95"/>
<circle cx="79.51" cy="223.96" r="0.95"/>
<circle cx="81.65" cy="223.83" r="0.95"/>
<circle cx="83.78" cy="223.69" r="0.95"/>
<circle cx="85.91" cy="223.55" r="0.95"/>
<circle cx="88.05" cy="223.40" r="0.95"/>
<circle cx="90.18" cy="223.24" r="0.95"/>
<circle cx="92.32" cy="223.08" r="0.95"/>
<circle cx="94.45" cy="222.91" r="0.95"/>
<circle cx="96.58" cy="222.73" r="0.95"/>
<circle cx="98.72" cy="222.54" r="0.95"/>
<circle cx="100.85" cy="222.35" r="0.95"/>
<circle cx="102.99" cy="222.15" r="0.95"/>
<circle cx="105.12" cy="221.94" r="0.95"/>
<circle cx="107.25" cy="221.73" r="0.95"/>
<circle cx="109.39" cy="221.51" r="0.95"/>
<circle cx="111.52" cy="221.28" r="0.95"/>
<circle cx="113.66" cy="221.05" r="0.95"/>
<circle cx="115.79" cy="220.81" r="0.95"/>
<circle cx="117.92" cy="220.56" r="0.95"/>
<circle cx="120.06" cy="220.31" r="0.95"/>
<circle cx="122.19" cy="220.04" r="0.95"/>
<circle cx="124.33" cy="219.78" r="0.95"/>
<circle cx="126.46" cy="219.50" r="0.95"/>
<circle cx="128.59" cy="219.22" r="0.95"/>
<circle cx="130.73" cy="218.93" r="0.95"/>
<circle cx="132.86" cy="218.64" r="0.95"/>
<circle cx="135.00" cy="218.33" r="0.95"/>
<circle cx="137.13" cy="218.03" r="0.95"/>
<circle cx="139.26" cy="217.71" r="0.95"/>
<circle cx="141.40" cy="217.39" r="0.95"/>
<circle cx="143.53" cy="217.06" r="0.95"/>
<circle cx="145.67" cy="216.72" r="0.95"/>
<circle cx="147.80" cy="216.38" r="0.95"/>
<circle cx="149.93" cy="216.03" r="0.95"/>
<circle cx="152.07" cy="215.68" r="0.95"/>
<circle cx="154.20" cy="215.32" r="0.95"/>
<circle cx="156.34" cy="214.95" r="0.95"/>
<circle cx="158.47" cy="214.57" r="0.95"/>
<circle cx="160.60" cy="214.19" r="0.95"/>
<circle cx="162.74" cy="213.80" r="0.95"/>
<circle cx="164.87" cy="213.41" r="0.95"/>
<circle cx="167.01" cy="213.01" r="0.95"/>
<circle cx="169.14" cy="212.60" r="0.95"/>
<circle cx="171.27" cy="212.18" r="0.95"/>
<circle cx="173.41" cy="211.76" r="0.95"/>
<circle cx="175.54" cy="211.34" r="0.95"/>
<circle cx="177.68" cy="210.90" r="0.95"/>
<circle cx="179.81" cy="210.46" r="0.95"/>
<circle cx="181.94" cy="210.02" r="0.95"/>
<circle cx="184.08" cy="209.56" r="0.95"/>
<circle cx="186.21" cy="209.11" r="0.95"/>
<circle cx="188.35" cy="208.64" r="0.95"/>
<circle cx="190.48" cy="208.17" r="0.95"/>
<circle cx="192.61" cy="207.69" r="0.95"/>
<circle cx="194.75" cy="207.21" r="0.95"/>
<circle cx="196.88" cy="206.72" r="0.95"/>
<circle cx="199.02" cy="206.22" r="0.95"/>
<circle cx="201.15" cy="205.72" r="0.95"/>
<circle cx="203.28" cy="205.21" r="0.95"/>
<circle cx="205.42" cy="204.69" r="0.95"/>
<circle cx="207.55" cy="204.17" r="0.95"/>
<circle cx="209.69" cy="203.65" r="0.95"/>
<circle cx="211.82" cy="203.11" r="0.95"/>
<circle cx="213.95" cy="202.57" r="0.95"/>
<circle cx="216.09" cy="202.03" r="0.95"/>
<circle cx="218.22" cy="201.48" r="0.95"/>
<circle cx="220.36" cy="200.92" r="0.95"/>
<circle cx="222.49" cy="200.36" r="0.95"/>
<circle cx="224.62" cy="199.79" r="0.95"/>
<circle cx="226.76" cy="199.21" r="0.95"/>
<circle cx="228.89" cy="198.63" r="0.95"/>
<circle cx="231.03" cy="198.05" r="0.95"/>
<circle cx="233.16" cy="197.45" r="0.95"/>
<circle cx="235.29" cy="196.86" r="0.95"/>
<circle cx="237.43" cy="196.25" r="0.95"/>
<circle cx="239.56" cy="195.64" r="0.95"/>
<circle cx="241.70" cy="195.03" r="0.95"/>
<circle cx="243.83" cy="194.41" r="0.95"/>
<circle cx="245.96" cy="193.78" r="0.95"/>
<circle cx="248.10" cy="193.15" r="0.95"/>
<circle cx="250.23" cy="192.51" r="0.95"/>
<circle cx="252.37" cy="191.87" r="0.95"/>
<circle cx="254.50" cy="191.22" r="0.95"/>
<circle cx="256.63" cy="190.57" r="0.95"/>
<circle cx="258.77" cy="189.91" r="0.95"/>
<circle cx="260.90" cy="189.24" r="0.95"/>
<circle cx="263.04" cy="188.57" r="0.95"/>
<circle cx="265.17" cy="187.90" r="0.95"/>
<circle cx="267.30" cy="187.22" r="0.95"/>
<circle cx="269.44" cy="186.53" r="0.95"/>
<circle cx="271.57" cy="185.84" r="0.95"/>
<circle cx="273.71" cy="185.14" r="0.95"/>
<circle cx="275.84" cy="184.44" r="0.95"/>
<circle cx="277.97" cy="183.73" r="0.95"/>
<circle cx="280.11" cy="183.02" r="0.95"/>
<circle cx="282.24" cy="182.31" r="0.95"/>
<circle cx="284.38" cy="181.58" r="0.95"/>
<circle cx="286.51" cy="180.86" r="0.95"/>
<circle cx="288.64" cy="180.12" r="0.95"/>
<circle cx="290.78" cy="179.39" r="0.95"/>
<circle cx="292.91" cy="178.65" r="0.95"/>
<circle cx="295.05" cy="177.90" r="0.95"/>
<circle cx="297.18" cy="177.15" r="0.95"/>
<circle cx="299.31" cy="176.39" r="0.95"/>
<circle cx="301.45" cy="175.63" r="0.95"/>
<circle cx="303.58" cy="174.87" r="0.95"/>
<circle cx="305.72" cy="174.10" r="0.95"/>
<circle cx="307.85" cy="173.32" r="0.95"/>
<circle cx="309.98" cy="172.54" r="0.95"/>
<circle cx="312.12" cy="171.76" r="0.95"/>
<circle cx="314.25" cy="170.97" r="0.95"/>
<circle cx="316.39" cy="170.18" r="0.95"/>
<circle cx="318.52" cy="169.38" r="0.95"/>
<circle cx="320.65" cy="168.58" r="0.95"/>
<circle cx="322.79" cy="167.77" r="0.95"/>
<circle cx="324.92" cy="166.97" r="0.95"/>
<circle cx="327.06" cy="166.15" r="0.95"/>
<circle cx="329.19" cy="165.33" r="0.95"/>
<circle cx="331.32" cy="164.51" r="0.95"/>
<circle cx="333.46" cy="163.68" r="0.95"/>
<circle cx="335.59" cy="162.85" r="0.95"/>
<circle cx="337.73" cy="162.02" r="0.95"/>
<circle cx="339.86" cy="161.18" r="0.95"/>
<circle cx="341.99" cy="160.34" r="0.95"/>
<circle cx="344.13" cy="159.49" r="0.95"/>
<circle cx="346.26" cy="158.64" r="0.95"/>
<circle cx="348.40" cy="157.79" r="0.95"/>
<circle cx="350.53" cy="156.93" r="0.95"/>
<circle cx="352.66" cy="156.07" r="0.95"/>
<circle cx="354.80" cy="155.20" r="0.95"/>
<circle cx="356.93" cy="154.33" r="0.95"/>
<circle cx="359.07" cy="153.46" r="0.95"/>
<rect x="255.55" y="187.80" width="1.9" height="1.9"/>
<rect x="276.95" y="179.45" width="1.9" height="1.9"/>
<rect x="298.35" y="171.85" width="1.9" height="1.9"/>
<rect x="319.85" y="162.25" width="1.9" height="1.9"/>
<rect x="340.95" y="151.05" width="1.9" height="1.9"/>
</g>
</g>
<line x1="337.35" y1="5.50" x2="337.35" y2="225.10" stroke="#333" stroke-width="0.75" stroke-dasharray="1.9 1.3"/>
<g stroke="#2e2e2e" stroke-width="1" fill="none">
<rect x="41.05" y="5.5" width="320.45" height="219.6"/>
<path stroke="#4a4a4a" stroke-width="0.8" d="M41.05 188.43h3.5M361.5 188.43h-3.5"/>
<path stroke="#4a4a4a" stroke-width="0.8" d="M41.05 151.77h3.5M361.5 151.77h-3.5"/>
<path stroke="#4a4a4a" stroke-width="0.8" d="M41.05 115.10h3.5M361.5 115.10h-3.5"/>
<path stroke="#4a4a4a" stroke-width="0.8" d="M41.05 78.43h3.5M361.5 78.43h-3.5"/>
<path stroke="#4a4a4a" stroke-width="0.8" d="M41.05 41.77h3.5M361.5 41.77h-3.5"/>
<path stroke="#4a4a4a" stroke-width="0.8" d="M94.45 225.1v-3.5M94.45 5.5v3.5"/>
<path stroke="#4a4a4a" stroke-width="0.8" d="M147.80 225.1v-3.5M147.80 5.5v3.5"/>
<path stroke="#4a4a4a" stroke-width="0.8" d="M201.15 225.1v-3.5M201.15 5.5v3.5"/>
<path stroke="#4a4a4a" stroke-width="0.8" d="M254.50 225.1v-3.5M254.50 5.5v3.5"/>
<path stroke="#4a4a4a" stroke-width="0.8" d="M307.85 225.1v-3.5M307.85 5.5v3.5"/>
</g>
<rect x="93.3" y="14.9" width="126.3" height="75.89999999999999" fill="#fff"/>
<polyline points="93.30,90.80 94.14,90.80 94.98,90.78 95.83,90.76 96.67,90.74 97.51,90.70 98.35,90.66 99.19,90.61 100.04,90.55 100.88,90.48 101.72,90.41 102.56,90.33 103.40,90.24 104.25,90.14 105.09,90.04 105.93,89.93 106.77,89.81 107.61,89.68 108.46,89.54 109.30,89.40 110.14,89.25 110.98,89.09 111.82,88.92 112.67,88.75 113.51,88.57 114.35,88.38 115.19,88.18 116.03,87.98 116.88,87.77 117.72,87.55 118.56,87.33 119.40,87.09 120.24,86.85 121.09,86.60 121.93,86.35 122.77,86.09 123.61,85.82 124.45,85.54 125.30,85.26 126.14,84.96 126.98,84.67 127.82,84.36 128.66,84.05 129.51,83.73 130.35,83.40 131.19,83.07 132.03,82.73 132.87,82.38 133.72,82.03 134.56,81.67 135.40,81.30 136.24,80.93 137.08,80.55 137.93,80.16 138.77,79.77 139.61,79.37 140.45,78.97 141.29,78.56 142.14,78.14 142.98,77.71 143.82,77.28 144.66,76.85 145.50,76.40 146.35,75.95 147.19,75.50 148.03,75.04 148.87,74.57 149.71,74.10 150.56,73.62 151.40,73.14 152.24,72.65 153.08,72.16 153.92,71.66 154.77,71.15 155.61,70.64 156.45,70.12 157.29,69.60 158.13,69.08 158.98,68.55 159.82,68.01 160.66,67.47 161.50,66.93 162.34,66.37 163.19,65.82 164.03,65.26 164.87,64.70 165.71,64.13 166.55,63.56 167.40,62.98 168.24,62.40 169.08,61.81 169.92,61.22 170.76,60.63 171.61,60.04 172.45,59.43 173.29,58.83 174.13,58.22 174.97,57.61 175.82,57.00 176.66,56.38 177.50,55.76 178.34,55.14 179.18,54.51 180.03,53.88 180.87,53.25 181.71,52.61 182.55,51.97 183.39,51.33 184.24,50.69 185.08,50.04 185.92,49.40 186.76,48.75 187.60,48.10 188.45,47.44 189.29,46.79 190.13,46.13 190.97,45.47 191.81,44.81 192.66,44.15 193.50,43.49 194.34,42.83 195.18,42.16 196.02,41.50 196.87,40.83 197.71,40.16 198.55,39.50 199.39,38.83 200.23,38.16 201.08,37.49 201.92,36.82 202.76,36.15 203.60,35.49 204.44,34.82 205.29,34.15 206.13,33.48 206.97,32.82 207.81,32.15 208.65,31.49 209.50,30.82 210.34,30.16 211.18,29.50 212.02,28.84 212.86,28.18 213.71,27.52 214.55,26.87 215.39,26.22 216.23,25.57 217.07,24.92 217.92,24.27 218.76,23.63" fill="none" stroke="#00ff00" stroke-width="1.1"/>
<circle cx="178.34" cy="55.14" r="1.05" fill="#00e400"/>
<circle cx="186.76" cy="48.75" r="1.05" fill="#00e400"/>
<circle cx="195.18" cy="42.16" r="1.05" fill="#00e400"/>
<circle cx="203.60" cy="35.49" r="1.05" fill="#00e400"/>
<circle cx="212.02" cy="28.84" r="1.05" fill="#00e400"/>
<circle cx="210.34" cy="30.16" r="1.05" fill="#00e400"/>
<circle cx="214.13" cy="27.20" r="1.05" fill="#00e400"/>
<circle cx="216.23" cy="25.57" r="1.05" fill="#00e400"/>
<circle cx="218.34" cy="23.95" r="1.05" fill="#00e400"/>
<line x1="210.30" y1="14.90" x2="210.30" y2="90.80" stroke="#333" stroke-width="0.75" stroke-dasharray="1.9 1.3"/>
<g stroke="#2e2e2e" stroke-width="1" fill="none">
<rect x="93.3" y="14.9" width="126.3" height="75.89999999999999"/>
<path stroke="#4a4a4a" stroke-width="0.8" d="M93.3 65.50h3.5M219.6 65.50h-3.5"/>
<path stroke="#4a4a4a" stroke-width="0.8" d="M93.3 40.20h3.5M219.6 40.20h-3.5"/>
<path stroke="#4a4a4a" stroke-width="0.8" d="M135.40 90.8v-3.5M135.40 14.9v3.5"/>
<path stroke="#4a4a4a" stroke-width="0.8" d="M177.50 90.8v-3.5M177.50 14.9v3.5"/>
</g>
<g fill="#3a3a3a" font-size="11.8">
<text x="33.90" y="228.80" text-anchor="end">0</text>
<text x="33.90" y="192.13" text-anchor="end">0.1</text>
<text x="33.90" y="155.47" text-anchor="end">0.2</text>
<text x="33.90" y="118.80" text-anchor="end">0.3</text>
<text x="33.90" y="82.13" text-anchor="end">0.4</text>
<text x="33.90" y="45.47" text-anchor="end">0.5</text>
<text x="33.90" y="8.80" text-anchor="end">0.6</text>
<text x="42.80" y="240.20" text-anchor="middle">0</text>
<text x="96.15" y="240.20" text-anchor="middle">0.025</text>
<text x="149.50" y="240.20" text-anchor="middle">0.05</text>
<text x="202.85" y="240.20" text-anchor="middle">0.075</text>
<text x="256.20" y="240.20" text-anchor="middle">0.1</text>
<text x="309.55" y="240.20" text-anchor="middle">0.125</text>
<text x="362.90" y="240.20" text-anchor="middle">0.15</text>
<text x="191.10" y="257.70" font-style="italic" textLength="4.1" lengthAdjust="spacingAndGlyphs">t</text>
<text x="196.20" y="260.60" font-size="16">/</text>
<text x="201.40" y="257.70" font-style="italic" textLength="8.4" lengthAdjust="spacingAndGlyphs">U</text>
<g transform="translate(9.4,129.1) rotate(-90)">
<text x="0.00" y="0.00" font-style="italic" textLength="6.2" lengthAdjust="spacingAndGlyphs">J</text>
<text x="6.40" y="1.90" font-style="italic" font-size="10" textLength="5.2" lengthAdjust="spacingAndGlyphs">α</text>
<text x="12.40" y="2.90" font-size="16">/</text>
<text x="18.60" y="0.00" font-style="italic" textLength="6.2" lengthAdjust="spacingAndGlyphs">J</text>
<text x="25.60" y="-0.20" font-size="11">′</text>
</g>
<text x="50.00" y="213.00" textLength="14.6" lengthAdjust="spacingAndGlyphs">(b)</text>
<text x="85.70" y="94.50" text-anchor="end">0</text>
<text x="85.70" y="69.20" text-anchor="end">0.1</text>
<text x="85.70" y="43.90" text-anchor="end">0.2</text>
<text x="85.70" y="18.60" text-anchor="end">0.3</text>
<text x="95.10" y="105.60" text-anchor="middle">0</text>
<text x="137.20" y="105.60" text-anchor="middle">0.05</text>
<text x="179.30" y="105.60" text-anchor="middle">0.1</text>
<text x="221.40" y="105.60" text-anchor="middle">0.15</text>
<text x="146.50" y="117.70" font-style="italic" textLength="4.1" lengthAdjust="spacingAndGlyphs">t</text>
<text x="151.60" y="120.60" font-size="16">/</text>
<text x="156.80" y="117.70" font-style="italic" textLength="8.4" lengthAdjust="spacingAndGlyphs">U</text>
<g transform="translate(65.5,63.0) rotate(-90)">
<text x="0.00" y="0.00" font-style="italic" textLength="6.2" lengthAdjust="spacingAndGlyphs">J</text>
<text x="6.90" y="-0.20" font-size="11">′</text>
<text x="9.60" y="2.90" font-size="16">/</text>
<text x="15.00" y="0.00" font-style="italic" textLength="8.0" lengthAdjust="spacingAndGlyphs">U</text>
</g>
<text x="240.00" y="26.10" font-style="italic" textLength="6.3" lengthAdjust="spacingAndGlyphs">J</text>
<text x="246.40" y="27.90" font-size="8.4">1</text>
<text x="240.00" y="37.95" font-style="italic" textLength="6.3" lengthAdjust="spacingAndGlyphs">J</text>
<text x="246.40" y="39.75" font-size="8.4">2</text>
<text x="240.00" y="49.80" font-style="italic" textLength="6.3" lengthAdjust="spacingAndGlyphs">J</text>
<text x="246.40" y="51.60" font-size="8.4">3</text>
<text x="231.70" y="61.30" textLength="7.4" lengthAdjust="spacingAndGlyphs">−</text>
<text x="240.00" y="61.30" font-style="italic" textLength="6.3" lengthAdjust="spacingAndGlyphs">J</text>
<text x="245.70" y="64.30" font-size="10.5" textLength="5.2" lengthAdjust="spacingAndGlyphs" fill="#707070">‖</text>
<text x="229.20" y="73.20" textLength="7.4" lengthAdjust="spacingAndGlyphs">−</text>
<text x="237.60" y="73.20" font-style="italic" textLength="6.3" lengthAdjust="spacingAndGlyphs">J</text>
<text x="243.70" y="75.50" font-size="9.9" textLength="6.1" lengthAdjust="spacingAndGlyphs">=</text>
<text x="237.60" y="85.00" font-style="italic" textLength="6.3" lengthAdjust="spacingAndGlyphs">J</text>
<text x="244.00" y="87.60" font-size="9.9" textLength="5.6" lengthAdjust="spacingAndGlyphs">×</text>
</g>
<rect x="273.2" y="21.50" width="1.6" height="1.6" fill="#00ffff"/>
<rect x="273.2" y="33.40" width="1.6" height="1.6" fill="#ff0000"/>
<rect x="273.2" y="45.30" width="1.6" height="1.6" fill="#ff00ff"/>
<rect x="273.2" y="57.20" width="1.6" height="1.6" fill="#000000"/>
<rect x="273.2" y="69.10" width="1.6" height="1.6" fill="#ffff00"/>
<rect x="273.2" y="81.00" width="1.6" height="1.6" fill="#0000ff"/>
</svg>
</body></html>
